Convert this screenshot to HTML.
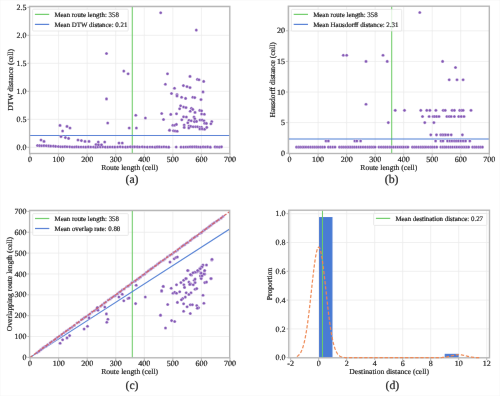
<!DOCTYPE html>
<html><head><meta charset="utf-8"><style>
html,body{margin:0;padding:0;background:#fff;width:500px;height:396px;overflow:hidden}
svg{display:block}
text{font-family:"Liberation Serif", serif;text-rendering:geometricPrecision}
</style></head><body>
<svg width="500" height="396" viewBox="0 0 500 396">
<defs><filter id="bl" x="-5%" y="-5%" width="110%" height="110%"><feConvolveMatrix order="3" kernelMatrix="0.00087 0.02776 0.00087 0.02776 0.88549 0.02776 0.00087 0.02776 0.00087" preserveAlpha="true" edgeMode="duplicate"/></filter></defs>
<g filter="url(#bl)">
<rect width="500" height="396" fill="#fff"/>
<rect x="29.6" y="6.4" width="200.20000000000002" height="147.1" fill="#fff"/>
<line x1="58.57" y1="6.40" x2="58.57" y2="153.50" stroke="#ebebeb" stroke-width="0.75"/>
<line x1="87.14" y1="6.40" x2="87.14" y2="153.50" stroke="#ebebeb" stroke-width="0.75"/>
<line x1="115.71" y1="6.40" x2="115.71" y2="153.50" stroke="#ebebeb" stroke-width="0.75"/>
<line x1="144.28" y1="6.40" x2="144.28" y2="153.50" stroke="#ebebeb" stroke-width="0.75"/>
<line x1="172.85" y1="6.40" x2="172.85" y2="153.50" stroke="#ebebeb" stroke-width="0.75"/>
<line x1="201.42" y1="6.40" x2="201.42" y2="153.50" stroke="#ebebeb" stroke-width="0.75"/>
<line x1="29.60" y1="147.30" x2="229.80" y2="147.30" stroke="#ebebeb" stroke-width="0.75"/>
<line x1="29.60" y1="119.30" x2="229.80" y2="119.30" stroke="#ebebeb" stroke-width="0.75"/>
<line x1="29.60" y1="91.30" x2="229.80" y2="91.30" stroke="#ebebeb" stroke-width="0.75"/>
<line x1="29.60" y1="63.30" x2="229.80" y2="63.30" stroke="#ebebeb" stroke-width="0.75"/>
<line x1="29.60" y1="35.30" x2="229.80" y2="35.30" stroke="#ebebeb" stroke-width="0.75"/>
<line x1="29.60" y1="7.30" x2="229.80" y2="7.30" stroke="#ebebeb" stroke-width="0.75"/>
<rect x="288.3" y="6.2" width="201.0" height="147.3" fill="#fff"/>
<line x1="289.60" y1="6.20" x2="289.60" y2="153.50" stroke="#ebebeb" stroke-width="0.75"/>
<line x1="318.12" y1="6.20" x2="318.12" y2="153.50" stroke="#ebebeb" stroke-width="0.75"/>
<line x1="346.64" y1="6.20" x2="346.64" y2="153.50" stroke="#ebebeb" stroke-width="0.75"/>
<line x1="375.16" y1="6.20" x2="375.16" y2="153.50" stroke="#ebebeb" stroke-width="0.75"/>
<line x1="403.68" y1="6.20" x2="403.68" y2="153.50" stroke="#ebebeb" stroke-width="0.75"/>
<line x1="432.20" y1="6.20" x2="432.20" y2="153.50" stroke="#ebebeb" stroke-width="0.75"/>
<line x1="460.72" y1="6.20" x2="460.72" y2="153.50" stroke="#ebebeb" stroke-width="0.75"/>
<line x1="288.30" y1="122.60" x2="489.30" y2="122.60" stroke="#ebebeb" stroke-width="0.75"/>
<line x1="288.30" y1="92.00" x2="489.30" y2="92.00" stroke="#ebebeb" stroke-width="0.75"/>
<line x1="288.30" y1="61.40" x2="489.30" y2="61.40" stroke="#ebebeb" stroke-width="0.75"/>
<line x1="288.30" y1="30.80" x2="489.30" y2="30.80" stroke="#ebebeb" stroke-width="0.75"/>
<rect x="29.6" y="210.4" width="200.1" height="147.4" fill="#fff"/>
<line x1="58.65" y1="210.40" x2="58.65" y2="357.80" stroke="#ebebeb" stroke-width="0.75"/>
<line x1="87.20" y1="210.40" x2="87.20" y2="357.80" stroke="#ebebeb" stroke-width="0.75"/>
<line x1="115.75" y1="210.40" x2="115.75" y2="357.80" stroke="#ebebeb" stroke-width="0.75"/>
<line x1="144.30" y1="210.40" x2="144.30" y2="357.80" stroke="#ebebeb" stroke-width="0.75"/>
<line x1="172.85" y1="210.40" x2="172.85" y2="357.80" stroke="#ebebeb" stroke-width="0.75"/>
<line x1="201.40" y1="210.40" x2="201.40" y2="357.80" stroke="#ebebeb" stroke-width="0.75"/>
<line x1="29.60" y1="336.54" x2="229.70" y2="336.54" stroke="#ebebeb" stroke-width="0.75"/>
<line x1="29.60" y1="315.68" x2="229.70" y2="315.68" stroke="#ebebeb" stroke-width="0.75"/>
<line x1="29.60" y1="294.82" x2="229.70" y2="294.82" stroke="#ebebeb" stroke-width="0.75"/>
<line x1="29.60" y1="273.96" x2="229.70" y2="273.96" stroke="#ebebeb" stroke-width="0.75"/>
<line x1="29.60" y1="253.10" x2="229.70" y2="253.10" stroke="#ebebeb" stroke-width="0.75"/>
<line x1="29.60" y1="232.24" x2="229.70" y2="232.24" stroke="#ebebeb" stroke-width="0.75"/>
<line x1="29.60" y1="211.38" x2="229.70" y2="211.38" stroke="#ebebeb" stroke-width="0.75"/>
<rect x="288.8" y="210.2" width="200.7" height="147.60000000000002" fill="#fff"/>
<line x1="290.70" y1="210.20" x2="290.70" y2="357.80" stroke="#ebebeb" stroke-width="0.75"/>
<line x1="318.70" y1="210.20" x2="318.70" y2="357.80" stroke="#ebebeb" stroke-width="0.75"/>
<line x1="346.70" y1="210.20" x2="346.70" y2="357.80" stroke="#ebebeb" stroke-width="0.75"/>
<line x1="374.70" y1="210.20" x2="374.70" y2="357.80" stroke="#ebebeb" stroke-width="0.75"/>
<line x1="402.70" y1="210.20" x2="402.70" y2="357.80" stroke="#ebebeb" stroke-width="0.75"/>
<line x1="430.70" y1="210.20" x2="430.70" y2="357.80" stroke="#ebebeb" stroke-width="0.75"/>
<line x1="458.70" y1="210.20" x2="458.70" y2="357.80" stroke="#ebebeb" stroke-width="0.75"/>
<line x1="486.70" y1="210.20" x2="486.70" y2="357.80" stroke="#ebebeb" stroke-width="0.75"/>
<line x1="288.80" y1="328.90" x2="489.50" y2="328.90" stroke="#ebebeb" stroke-width="0.75"/>
<line x1="288.80" y1="300.10" x2="489.50" y2="300.10" stroke="#ebebeb" stroke-width="0.75"/>
<line x1="288.80" y1="271.30" x2="489.50" y2="271.30" stroke="#ebebeb" stroke-width="0.75"/>
<line x1="288.80" y1="242.50" x2="489.50" y2="242.50" stroke="#ebebeb" stroke-width="0.75"/>
<line x1="288.80" y1="213.70" x2="489.50" y2="213.70" stroke="#ebebeb" stroke-width="0.75"/>
<line x1="132.28" y1="6.40" x2="132.28" y2="153.50" stroke="#6acc64" stroke-width="1.05"/>
<line x1="29.60" y1="135.54" x2="229.80" y2="135.54" stroke="#4a7cd4" stroke-width="1.1"/>
<circle cx="37.50" cy="145.45" r="1.55" fill="#8152b4" stroke="#fff" stroke-width="0.35"/>
<circle cx="39.62" cy="145.64" r="1.55" fill="#8152b4" stroke="#fff" stroke-width="0.35"/>
<circle cx="41.68" cy="145.70" r="1.55" fill="#8152b4" stroke="#fff" stroke-width="0.35"/>
<circle cx="43.97" cy="145.66" r="1.55" fill="#8152b4" stroke="#fff" stroke-width="0.35"/>
<circle cx="46.38" cy="145.76" r="1.55" fill="#8152b4" stroke="#fff" stroke-width="0.35"/>
<circle cx="48.72" cy="145.88" r="1.55" fill="#8152b4" stroke="#fff" stroke-width="0.35"/>
<circle cx="50.80" cy="146.08" r="1.55" fill="#8152b4" stroke="#fff" stroke-width="0.35"/>
<circle cx="53.46" cy="146.11" r="1.55" fill="#8152b4" stroke="#fff" stroke-width="0.35"/>
<circle cx="55.64" cy="146.35" r="1.55" fill="#8152b4" stroke="#fff" stroke-width="0.35"/>
<circle cx="58.39" cy="146.46" r="1.55" fill="#8152b4" stroke="#fff" stroke-width="0.35"/>
<circle cx="60.71" cy="146.69" r="1.55" fill="#8152b4" stroke="#fff" stroke-width="0.35"/>
<circle cx="62.75" cy="146.74" r="1.55" fill="#8152b4" stroke="#fff" stroke-width="0.35"/>
<circle cx="64.98" cy="146.63" r="1.55" fill="#8152b4" stroke="#fff" stroke-width="0.35"/>
<circle cx="67.08" cy="146.77" r="1.55" fill="#8152b4" stroke="#fff" stroke-width="0.35"/>
<circle cx="69.73" cy="146.85" r="1.55" fill="#8152b4" stroke="#fff" stroke-width="0.35"/>
<circle cx="72.19" cy="147.04" r="1.55" fill="#8152b4" stroke="#fff" stroke-width="0.35"/>
<circle cx="74.49" cy="147.01" r="1.55" fill="#8152b4" stroke="#fff" stroke-width="0.35"/>
<circle cx="76.54" cy="146.87" r="1.55" fill="#8152b4" stroke="#fff" stroke-width="0.35"/>
<circle cx="78.71" cy="147.05" r="1.55" fill="#8152b4" stroke="#fff" stroke-width="0.35"/>
<circle cx="81.05" cy="146.94" r="1.55" fill="#8152b4" stroke="#fff" stroke-width="0.35"/>
<circle cx="83.52" cy="146.99" r="1.55" fill="#8152b4" stroke="#fff" stroke-width="0.35"/>
<circle cx="85.76" cy="147.09" r="1.55" fill="#8152b4" stroke="#fff" stroke-width="0.35"/>
<circle cx="88.32" cy="146.92" r="1.55" fill="#8152b4" stroke="#fff" stroke-width="0.35"/>
<circle cx="90.78" cy="147.01" r="1.55" fill="#8152b4" stroke="#fff" stroke-width="0.35"/>
<circle cx="93.48" cy="147.07" r="1.55" fill="#8152b4" stroke="#fff" stroke-width="0.35"/>
<circle cx="95.71" cy="147.14" r="1.55" fill="#8152b4" stroke="#fff" stroke-width="0.35"/>
<circle cx="97.80" cy="146.98" r="1.55" fill="#8152b4" stroke="#fff" stroke-width="0.35"/>
<circle cx="100.41" cy="146.90" r="1.55" fill="#8152b4" stroke="#fff" stroke-width="0.35"/>
<circle cx="102.80" cy="146.86" r="1.55" fill="#8152b4" stroke="#fff" stroke-width="0.35"/>
<circle cx="105.33" cy="147.08" r="1.55" fill="#8152b4" stroke="#fff" stroke-width="0.35"/>
<circle cx="107.79" cy="147.11" r="1.55" fill="#8152b4" stroke="#fff" stroke-width="0.35"/>
<circle cx="110.04" cy="147.06" r="1.55" fill="#8152b4" stroke="#fff" stroke-width="0.35"/>
<circle cx="112.52" cy="147.02" r="1.55" fill="#8152b4" stroke="#fff" stroke-width="0.35"/>
<circle cx="114.88" cy="147.10" r="1.55" fill="#8152b4" stroke="#fff" stroke-width="0.35"/>
<circle cx="117.64" cy="146.99" r="1.55" fill="#8152b4" stroke="#fff" stroke-width="0.35"/>
<circle cx="120.17" cy="146.87" r="1.55" fill="#8152b4" stroke="#fff" stroke-width="0.35"/>
<circle cx="122.73" cy="147.04" r="1.55" fill="#8152b4" stroke="#fff" stroke-width="0.35"/>
<circle cx="125.52" cy="147.10" r="1.55" fill="#8152b4" stroke="#fff" stroke-width="0.35"/>
<circle cx="127.75" cy="146.97" r="1.55" fill="#8152b4" stroke="#fff" stroke-width="0.35"/>
<circle cx="130.29" cy="146.86" r="1.55" fill="#8152b4" stroke="#fff" stroke-width="0.35"/>
<circle cx="132.66" cy="146.90" r="1.55" fill="#8152b4" stroke="#fff" stroke-width="0.35"/>
<circle cx="134.75" cy="146.87" r="1.55" fill="#8152b4" stroke="#fff" stroke-width="0.35"/>
<circle cx="137.36" cy="146.89" r="1.55" fill="#8152b4" stroke="#fff" stroke-width="0.35"/>
<circle cx="139.56" cy="146.97" r="1.55" fill="#8152b4" stroke="#fff" stroke-width="0.35"/>
<circle cx="142.26" cy="146.87" r="1.55" fill="#8152b4" stroke="#fff" stroke-width="0.35"/>
<circle cx="144.62" cy="147.01" r="1.55" fill="#8152b4" stroke="#fff" stroke-width="0.35"/>
<circle cx="147.33" cy="147.10" r="1.55" fill="#8152b4" stroke="#fff" stroke-width="0.35"/>
<circle cx="150.02" cy="146.93" r="1.55" fill="#8152b4" stroke="#fff" stroke-width="0.35"/>
<circle cx="152.35" cy="146.96" r="1.55" fill="#8152b4" stroke="#fff" stroke-width="0.35"/>
<circle cx="155.06" cy="147.14" r="1.55" fill="#8152b4" stroke="#fff" stroke-width="0.35"/>
<circle cx="157.18" cy="146.90" r="1.55" fill="#8152b4" stroke="#fff" stroke-width="0.35"/>
<circle cx="159.36" cy="146.92" r="1.55" fill="#8152b4" stroke="#fff" stroke-width="0.35"/>
<circle cx="161.75" cy="147.03" r="1.55" fill="#8152b4" stroke="#fff" stroke-width="0.35"/>
<circle cx="163.96" cy="146.85" r="1.55" fill="#8152b4" stroke="#fff" stroke-width="0.35"/>
<circle cx="166.30" cy="146.96" r="1.55" fill="#8152b4" stroke="#fff" stroke-width="0.35"/>
<circle cx="168.75" cy="147.14" r="1.55" fill="#8152b4" stroke="#fff" stroke-width="0.35"/>
<circle cx="176.21" cy="147.05" r="1.55" fill="#8152b4" stroke="#fff" stroke-width="0.35"/>
<circle cx="180.97" cy="147.08" r="1.55" fill="#8152b4" stroke="#fff" stroke-width="0.35"/>
<circle cx="183.67" cy="147.09" r="1.55" fill="#8152b4" stroke="#fff" stroke-width="0.35"/>
<circle cx="185.98" cy="146.97" r="1.55" fill="#8152b4" stroke="#fff" stroke-width="0.35"/>
<circle cx="188.07" cy="147.04" r="1.55" fill="#8152b4" stroke="#fff" stroke-width="0.35"/>
<circle cx="190.12" cy="146.87" r="1.55" fill="#8152b4" stroke="#fff" stroke-width="0.35"/>
<circle cx="192.28" cy="146.90" r="1.55" fill="#8152b4" stroke="#fff" stroke-width="0.35"/>
<circle cx="194.56" cy="146.87" r="1.55" fill="#8152b4" stroke="#fff" stroke-width="0.35"/>
<circle cx="196.56" cy="146.90" r="1.55" fill="#8152b4" stroke="#fff" stroke-width="0.35"/>
<circle cx="198.64" cy="146.96" r="1.55" fill="#8152b4" stroke="#fff" stroke-width="0.35"/>
<circle cx="200.66" cy="147.11" r="1.55" fill="#8152b4" stroke="#fff" stroke-width="0.35"/>
<circle cx="203.15" cy="146.89" r="1.55" fill="#8152b4" stroke="#fff" stroke-width="0.35"/>
<circle cx="205.35" cy="146.95" r="1.55" fill="#8152b4" stroke="#fff" stroke-width="0.35"/>
<circle cx="207.64" cy="146.89" r="1.55" fill="#8152b4" stroke="#fff" stroke-width="0.35"/>
<circle cx="210.32" cy="147.15" r="1.55" fill="#8152b4" stroke="#fff" stroke-width="0.35"/>
<circle cx="215.08" cy="146.88" r="1.55" fill="#8152b4" stroke="#fff" stroke-width="0.35"/>
<circle cx="217.16" cy="146.95" r="1.55" fill="#8152b4" stroke="#fff" stroke-width="0.35"/>
<circle cx="219.38" cy="147.10" r="1.55" fill="#8152b4" stroke="#fff" stroke-width="0.35"/>
<circle cx="221.50" cy="146.86" r="1.55" fill="#8152b4" stroke="#fff" stroke-width="0.35"/>
<circle cx="160.70" cy="12.70" r="1.55" fill="#8152b4" stroke="#fff" stroke-width="0.35"/>
<circle cx="196.30" cy="30.10" r="1.55" fill="#8152b4" stroke="#fff" stroke-width="0.35"/>
<circle cx="106.50" cy="53.50" r="1.55" fill="#8152b4" stroke="#fff" stroke-width="0.35"/>
<circle cx="123.80" cy="71.10" r="1.55" fill="#8152b4" stroke="#fff" stroke-width="0.35"/>
<circle cx="128.10" cy="73.80" r="1.55" fill="#8152b4" stroke="#fff" stroke-width="0.35"/>
<circle cx="167.50" cy="73.80" r="1.55" fill="#8152b4" stroke="#fff" stroke-width="0.35"/>
<circle cx="165.40" cy="84.20" r="1.55" fill="#8152b4" stroke="#fff" stroke-width="0.35"/>
<circle cx="174.50" cy="88.20" r="1.55" fill="#8152b4" stroke="#fff" stroke-width="0.35"/>
<circle cx="171.50" cy="93.50" r="1.55" fill="#8152b4" stroke="#fff" stroke-width="0.35"/>
<circle cx="106.50" cy="98.90" r="1.55" fill="#8152b4" stroke="#fff" stroke-width="0.35"/>
<circle cx="203.00" cy="91.90" r="1.55" fill="#8152b4" stroke="#fff" stroke-width="0.35"/>
<circle cx="183.40" cy="85.60" r="1.55" fill="#8152b4" stroke="#fff" stroke-width="0.35"/>
<circle cx="187.00" cy="86.60" r="1.55" fill="#8152b4" stroke="#fff" stroke-width="0.35"/>
<circle cx="190.00" cy="87.60" r="1.55" fill="#8152b4" stroke="#fff" stroke-width="0.35"/>
<circle cx="190.00" cy="76.40" r="1.55" fill="#8152b4" stroke="#fff" stroke-width="0.35"/>
<circle cx="197.40" cy="79.40" r="1.55" fill="#8152b4" stroke="#fff" stroke-width="0.35"/>
<circle cx="199.00" cy="79.80" r="1.55" fill="#8152b4" stroke="#fff" stroke-width="0.35"/>
<circle cx="203.70" cy="81.40" r="1.55" fill="#8152b4" stroke="#fff" stroke-width="0.35"/>
<circle cx="177.00" cy="94.60" r="1.55" fill="#8152b4" stroke="#fff" stroke-width="0.35"/>
<circle cx="177.00" cy="96.00" r="1.55" fill="#8152b4" stroke="#fff" stroke-width="0.35"/>
<circle cx="181.60" cy="97.20" r="1.55" fill="#8152b4" stroke="#fff" stroke-width="0.35"/>
<circle cx="185.60" cy="98.40" r="1.55" fill="#8152b4" stroke="#fff" stroke-width="0.35"/>
<circle cx="192.80" cy="97.20" r="1.55" fill="#8152b4" stroke="#fff" stroke-width="0.35"/>
<circle cx="194.80" cy="97.60" r="1.55" fill="#8152b4" stroke="#fff" stroke-width="0.35"/>
<circle cx="201.00" cy="99.60" r="1.55" fill="#8152b4" stroke="#fff" stroke-width="0.35"/>
<circle cx="180.60" cy="105.80" r="1.55" fill="#8152b4" stroke="#fff" stroke-width="0.35"/>
<circle cx="183.60" cy="107.00" r="1.55" fill="#8152b4" stroke="#fff" stroke-width="0.35"/>
<circle cx="186.00" cy="107.60" r="1.55" fill="#8152b4" stroke="#fff" stroke-width="0.35"/>
<circle cx="179.60" cy="108.80" r="1.55" fill="#8152b4" stroke="#fff" stroke-width="0.35"/>
<circle cx="191.40" cy="108.40" r="1.55" fill="#8152b4" stroke="#fff" stroke-width="0.35"/>
<circle cx="192.80" cy="109.40" r="1.55" fill="#8152b4" stroke="#fff" stroke-width="0.35"/>
<circle cx="190.20" cy="111.20" r="1.55" fill="#8152b4" stroke="#fff" stroke-width="0.35"/>
<circle cx="195.00" cy="112.40" r="1.55" fill="#8152b4" stroke="#fff" stroke-width="0.35"/>
<circle cx="199.80" cy="110.40" r="1.55" fill="#8152b4" stroke="#fff" stroke-width="0.35"/>
<circle cx="201.60" cy="110.80" r="1.55" fill="#8152b4" stroke="#fff" stroke-width="0.35"/>
<circle cx="201.60" cy="114.00" r="1.55" fill="#8152b4" stroke="#fff" stroke-width="0.35"/>
<circle cx="204.40" cy="114.20" r="1.55" fill="#8152b4" stroke="#fff" stroke-width="0.35"/>
<circle cx="170.80" cy="114.40" r="1.55" fill="#8152b4" stroke="#fff" stroke-width="0.35"/>
<circle cx="176.50" cy="113.80" r="1.55" fill="#8152b4" stroke="#fff" stroke-width="0.35"/>
<circle cx="183.60" cy="116.80" r="1.55" fill="#8152b4" stroke="#fff" stroke-width="0.35"/>
<circle cx="186.40" cy="117.00" r="1.55" fill="#8152b4" stroke="#fff" stroke-width="0.35"/>
<circle cx="194.00" cy="117.00" r="1.55" fill="#8152b4" stroke="#fff" stroke-width="0.35"/>
<circle cx="194.80" cy="118.80" r="1.55" fill="#8152b4" stroke="#fff" stroke-width="0.35"/>
<circle cx="181.80" cy="119.80" r="1.55" fill="#8152b4" stroke="#fff" stroke-width="0.35"/>
<circle cx="189.00" cy="120.20" r="1.55" fill="#8152b4" stroke="#fff" stroke-width="0.35"/>
<circle cx="191.20" cy="120.80" r="1.55" fill="#8152b4" stroke="#fff" stroke-width="0.35"/>
<circle cx="194.40" cy="121.60" r="1.55" fill="#8152b4" stroke="#fff" stroke-width="0.35"/>
<circle cx="196.50" cy="121.40" r="1.55" fill="#8152b4" stroke="#fff" stroke-width="0.35"/>
<circle cx="200.00" cy="120.00" r="1.55" fill="#8152b4" stroke="#fff" stroke-width="0.35"/>
<circle cx="202.20" cy="120.00" r="1.55" fill="#8152b4" stroke="#fff" stroke-width="0.35"/>
<circle cx="204.00" cy="120.80" r="1.55" fill="#8152b4" stroke="#fff" stroke-width="0.35"/>
<circle cx="187.80" cy="122.80" r="1.55" fill="#8152b4" stroke="#fff" stroke-width="0.35"/>
<circle cx="204.60" cy="123.20" r="1.55" fill="#8152b4" stroke="#fff" stroke-width="0.35"/>
<circle cx="206.40" cy="123.40" r="1.55" fill="#8152b4" stroke="#fff" stroke-width="0.35"/>
<circle cx="211.80" cy="121.60" r="1.55" fill="#8152b4" stroke="#fff" stroke-width="0.35"/>
<circle cx="210.90" cy="123.80" r="1.55" fill="#8152b4" stroke="#fff" stroke-width="0.35"/>
<circle cx="172.80" cy="125.20" r="1.55" fill="#8152b4" stroke="#fff" stroke-width="0.35"/>
<circle cx="174.60" cy="125.20" r="1.55" fill="#8152b4" stroke="#fff" stroke-width="0.35"/>
<circle cx="176.40" cy="124.40" r="1.55" fill="#8152b4" stroke="#fff" stroke-width="0.35"/>
<circle cx="184.20" cy="125.00" r="1.55" fill="#8152b4" stroke="#fff" stroke-width="0.35"/>
<circle cx="184.20" cy="127.40" r="1.55" fill="#8152b4" stroke="#fff" stroke-width="0.35"/>
<circle cx="189.00" cy="126.00" r="1.55" fill="#8152b4" stroke="#fff" stroke-width="0.35"/>
<circle cx="190.80" cy="126.40" r="1.55" fill="#8152b4" stroke="#fff" stroke-width="0.35"/>
<circle cx="193.20" cy="126.80" r="1.55" fill="#8152b4" stroke="#fff" stroke-width="0.35"/>
<circle cx="195.60" cy="126.80" r="1.55" fill="#8152b4" stroke="#fff" stroke-width="0.35"/>
<circle cx="197.60" cy="126.80" r="1.55" fill="#8152b4" stroke="#fff" stroke-width="0.35"/>
<circle cx="199.80" cy="127.20" r="1.55" fill="#8152b4" stroke="#fff" stroke-width="0.35"/>
<circle cx="201.60" cy="127.20" r="1.55" fill="#8152b4" stroke="#fff" stroke-width="0.35"/>
<circle cx="188.80" cy="128.00" r="1.55" fill="#8152b4" stroke="#fff" stroke-width="0.35"/>
<circle cx="199.80" cy="129.00" r="1.55" fill="#8152b4" stroke="#fff" stroke-width="0.35"/>
<circle cx="202.20" cy="129.00" r="1.55" fill="#8152b4" stroke="#fff" stroke-width="0.35"/>
<circle cx="204.60" cy="129.20" r="1.55" fill="#8152b4" stroke="#fff" stroke-width="0.35"/>
<circle cx="206.80" cy="127.40" r="1.55" fill="#8152b4" stroke="#fff" stroke-width="0.35"/>
<circle cx="169.60" cy="130.00" r="1.55" fill="#8152b4" stroke="#fff" stroke-width="0.35"/>
<circle cx="173.40" cy="130.80" r="1.55" fill="#8152b4" stroke="#fff" stroke-width="0.35"/>
<circle cx="175.20" cy="131.00" r="1.55" fill="#8152b4" stroke="#fff" stroke-width="0.35"/>
<circle cx="177.20" cy="131.20" r="1.55" fill="#8152b4" stroke="#fff" stroke-width="0.35"/>
<circle cx="107.70" cy="123.00" r="1.55" fill="#8152b4" stroke="#fff" stroke-width="0.35"/>
<circle cx="135.80" cy="115.30" r="1.55" fill="#8152b4" stroke="#fff" stroke-width="0.35"/>
<circle cx="145.40" cy="118.00" r="1.55" fill="#8152b4" stroke="#fff" stroke-width="0.35"/>
<circle cx="161.70" cy="113.50" r="1.55" fill="#8152b4" stroke="#fff" stroke-width="0.35"/>
<circle cx="163.50" cy="119.50" r="1.55" fill="#8152b4" stroke="#fff" stroke-width="0.35"/>
<circle cx="129.20" cy="128.00" r="1.55" fill="#8152b4" stroke="#fff" stroke-width="0.35"/>
<circle cx="136.40" cy="128.00" r="1.55" fill="#8152b4" stroke="#fff" stroke-width="0.35"/>
<circle cx="169.50" cy="130.30" r="1.55" fill="#8152b4" stroke="#fff" stroke-width="0.35"/>
<circle cx="60.00" cy="125.40" r="1.55" fill="#8152b4" stroke="#fff" stroke-width="0.35"/>
<circle cx="62.60" cy="131.00" r="1.55" fill="#8152b4" stroke="#fff" stroke-width="0.35"/>
<circle cx="67.00" cy="126.40" r="1.55" fill="#8152b4" stroke="#fff" stroke-width="0.35"/>
<circle cx="70.00" cy="128.00" r="1.55" fill="#8152b4" stroke="#fff" stroke-width="0.35"/>
<circle cx="61.00" cy="136.60" r="1.55" fill="#8152b4" stroke="#fff" stroke-width="0.35"/>
<circle cx="65.40" cy="137.60" r="1.55" fill="#8152b4" stroke="#fff" stroke-width="0.35"/>
<circle cx="68.60" cy="138.40" r="1.55" fill="#8152b4" stroke="#fff" stroke-width="0.35"/>
<circle cx="41.00" cy="140.00" r="1.55" fill="#8152b4" stroke="#fff" stroke-width="0.35"/>
<circle cx="44.00" cy="141.40" r="1.55" fill="#8152b4" stroke="#fff" stroke-width="0.35"/>
<circle cx="78.00" cy="140.00" r="1.55" fill="#8152b4" stroke="#fff" stroke-width="0.35"/>
<circle cx="81.40" cy="140.60" r="1.55" fill="#8152b4" stroke="#fff" stroke-width="0.35"/>
<circle cx="85.00" cy="141.40" r="1.55" fill="#8152b4" stroke="#fff" stroke-width="0.35"/>
<circle cx="89.00" cy="141.40" r="1.55" fill="#8152b4" stroke="#fff" stroke-width="0.35"/>
<circle cx="98.30" cy="142.00" r="1.55" fill="#8152b4" stroke="#fff" stroke-width="0.35"/>
<circle cx="104.70" cy="142.00" r="1.55" fill="#8152b4" stroke="#fff" stroke-width="0.35"/>
<circle cx="119.00" cy="143.00" r="1.55" fill="#8152b4" stroke="#fff" stroke-width="0.35"/>
<circle cx="122.30" cy="143.00" r="1.55" fill="#8152b4" stroke="#fff" stroke-width="0.35"/>
<circle cx="96.00" cy="144.50" r="1.55" fill="#8152b4" stroke="#fff" stroke-width="0.35"/>
<circle cx="98.50" cy="144.80" r="1.55" fill="#8152b4" stroke="#fff" stroke-width="0.35"/>
<circle cx="101.50" cy="144.80" r="1.55" fill="#8152b4" stroke="#fff" stroke-width="0.35"/>
<line x1="391.70" y1="6.20" x2="391.70" y2="153.50" stroke="#6acc64" stroke-width="1.05"/>
<line x1="288.30" y1="139.06" x2="489.30" y2="139.06" stroke="#4a7cd4" stroke-width="1.1"/>
<circle cx="296.50" cy="147.10" r="1.55" fill="#8152b4" stroke="#fff" stroke-width="0.35"/>
<circle cx="298.52" cy="147.10" r="1.55" fill="#8152b4" stroke="#fff" stroke-width="0.35"/>
<circle cx="300.30" cy="147.10" r="1.55" fill="#8152b4" stroke="#fff" stroke-width="0.35"/>
<circle cx="302.33" cy="147.10" r="1.55" fill="#8152b4" stroke="#fff" stroke-width="0.35"/>
<circle cx="304.05" cy="147.10" r="1.55" fill="#8152b4" stroke="#fff" stroke-width="0.35"/>
<circle cx="306.06" cy="147.10" r="1.55" fill="#8152b4" stroke="#fff" stroke-width="0.35"/>
<circle cx="308.35" cy="147.10" r="1.55" fill="#8152b4" stroke="#fff" stroke-width="0.35"/>
<circle cx="310.57" cy="147.10" r="1.55" fill="#8152b4" stroke="#fff" stroke-width="0.35"/>
<circle cx="312.69" cy="147.10" r="1.55" fill="#8152b4" stroke="#fff" stroke-width="0.35"/>
<circle cx="314.54" cy="147.10" r="1.55" fill="#8152b4" stroke="#fff" stroke-width="0.35"/>
<circle cx="316.46" cy="147.10" r="1.55" fill="#8152b4" stroke="#fff" stroke-width="0.35"/>
<circle cx="318.26" cy="147.10" r="1.55" fill="#8152b4" stroke="#fff" stroke-width="0.35"/>
<circle cx="320.43" cy="147.10" r="1.55" fill="#8152b4" stroke="#fff" stroke-width="0.35"/>
<circle cx="322.45" cy="147.10" r="1.55" fill="#8152b4" stroke="#fff" stroke-width="0.35"/>
<circle cx="324.61" cy="147.10" r="1.55" fill="#8152b4" stroke="#fff" stroke-width="0.35"/>
<circle cx="328.35" cy="147.10" r="1.55" fill="#8152b4" stroke="#fff" stroke-width="0.35"/>
<circle cx="330.53" cy="147.10" r="1.55" fill="#8152b4" stroke="#fff" stroke-width="0.35"/>
<circle cx="332.82" cy="147.10" r="1.55" fill="#8152b4" stroke="#fff" stroke-width="0.35"/>
<circle cx="335.03" cy="147.10" r="1.55" fill="#8152b4" stroke="#fff" stroke-width="0.35"/>
<circle cx="339.41" cy="147.10" r="1.55" fill="#8152b4" stroke="#fff" stroke-width="0.35"/>
<circle cx="341.55" cy="147.10" r="1.55" fill="#8152b4" stroke="#fff" stroke-width="0.35"/>
<circle cx="343.39" cy="147.10" r="1.55" fill="#8152b4" stroke="#fff" stroke-width="0.35"/>
<circle cx="345.40" cy="147.10" r="1.55" fill="#8152b4" stroke="#fff" stroke-width="0.35"/>
<circle cx="347.31" cy="147.10" r="1.55" fill="#8152b4" stroke="#fff" stroke-width="0.35"/>
<circle cx="349.03" cy="147.10" r="1.55" fill="#8152b4" stroke="#fff" stroke-width="0.35"/>
<circle cx="350.75" cy="147.10" r="1.55" fill="#8152b4" stroke="#fff" stroke-width="0.35"/>
<circle cx="352.62" cy="147.10" r="1.55" fill="#8152b4" stroke="#fff" stroke-width="0.35"/>
<circle cx="354.47" cy="147.10" r="1.55" fill="#8152b4" stroke="#fff" stroke-width="0.35"/>
<circle cx="356.59" cy="147.10" r="1.55" fill="#8152b4" stroke="#fff" stroke-width="0.35"/>
<circle cx="358.86" cy="147.10" r="1.55" fill="#8152b4" stroke="#fff" stroke-width="0.35"/>
<circle cx="360.83" cy="147.10" r="1.55" fill="#8152b4" stroke="#fff" stroke-width="0.35"/>
<circle cx="363.09" cy="147.10" r="1.55" fill="#8152b4" stroke="#fff" stroke-width="0.35"/>
<circle cx="365.38" cy="147.10" r="1.55" fill="#8152b4" stroke="#fff" stroke-width="0.35"/>
<circle cx="367.66" cy="147.10" r="1.55" fill="#8152b4" stroke="#fff" stroke-width="0.35"/>
<circle cx="369.58" cy="147.10" r="1.55" fill="#8152b4" stroke="#fff" stroke-width="0.35"/>
<circle cx="371.41" cy="147.10" r="1.55" fill="#8152b4" stroke="#fff" stroke-width="0.35"/>
<circle cx="373.24" cy="147.10" r="1.55" fill="#8152b4" stroke="#fff" stroke-width="0.35"/>
<circle cx="375.06" cy="147.10" r="1.55" fill="#8152b4" stroke="#fff" stroke-width="0.35"/>
<circle cx="378.96" cy="147.10" r="1.55" fill="#8152b4" stroke="#fff" stroke-width="0.35"/>
<circle cx="381.20" cy="147.10" r="1.55" fill="#8152b4" stroke="#fff" stroke-width="0.35"/>
<circle cx="383.40" cy="147.10" r="1.55" fill="#8152b4" stroke="#fff" stroke-width="0.35"/>
<circle cx="385.39" cy="147.10" r="1.55" fill="#8152b4" stroke="#fff" stroke-width="0.35"/>
<circle cx="387.48" cy="147.10" r="1.55" fill="#8152b4" stroke="#fff" stroke-width="0.35"/>
<circle cx="389.66" cy="147.10" r="1.55" fill="#8152b4" stroke="#fff" stroke-width="0.35"/>
<circle cx="391.41" cy="147.10" r="1.55" fill="#8152b4" stroke="#fff" stroke-width="0.35"/>
<circle cx="393.51" cy="147.10" r="1.55" fill="#8152b4" stroke="#fff" stroke-width="0.35"/>
<circle cx="395.76" cy="147.10" r="1.55" fill="#8152b4" stroke="#fff" stroke-width="0.35"/>
<circle cx="397.92" cy="147.10" r="1.55" fill="#8152b4" stroke="#fff" stroke-width="0.35"/>
<circle cx="400.07" cy="147.10" r="1.55" fill="#8152b4" stroke="#fff" stroke-width="0.35"/>
<circle cx="402.06" cy="147.10" r="1.55" fill="#8152b4" stroke="#fff" stroke-width="0.35"/>
<circle cx="403.87" cy="147.10" r="1.55" fill="#8152b4" stroke="#fff" stroke-width="0.35"/>
<circle cx="406.04" cy="147.10" r="1.55" fill="#8152b4" stroke="#fff" stroke-width="0.35"/>
<circle cx="407.94" cy="147.10" r="1.55" fill="#8152b4" stroke="#fff" stroke-width="0.35"/>
<circle cx="412.41" cy="147.10" r="1.55" fill="#8152b4" stroke="#fff" stroke-width="0.35"/>
<circle cx="414.34" cy="147.10" r="1.55" fill="#8152b4" stroke="#fff" stroke-width="0.35"/>
<circle cx="416.28" cy="147.10" r="1.55" fill="#8152b4" stroke="#fff" stroke-width="0.35"/>
<circle cx="418.55" cy="147.10" r="1.55" fill="#8152b4" stroke="#fff" stroke-width="0.35"/>
<circle cx="420.69" cy="147.10" r="1.55" fill="#8152b4" stroke="#fff" stroke-width="0.35"/>
<circle cx="422.49" cy="147.10" r="1.55" fill="#8152b4" stroke="#fff" stroke-width="0.35"/>
<circle cx="424.26" cy="147.10" r="1.55" fill="#8152b4" stroke="#fff" stroke-width="0.35"/>
<circle cx="426.06" cy="147.10" r="1.55" fill="#8152b4" stroke="#fff" stroke-width="0.35"/>
<circle cx="428.30" cy="147.10" r="1.55" fill="#8152b4" stroke="#fff" stroke-width="0.35"/>
<circle cx="430.48" cy="147.10" r="1.55" fill="#8152b4" stroke="#fff" stroke-width="0.35"/>
<circle cx="432.27" cy="147.10" r="1.55" fill="#8152b4" stroke="#fff" stroke-width="0.35"/>
<circle cx="434.47" cy="147.10" r="1.55" fill="#8152b4" stroke="#fff" stroke-width="0.35"/>
<circle cx="436.75" cy="147.10" r="1.55" fill="#8152b4" stroke="#fff" stroke-width="0.35"/>
<circle cx="440.76" cy="147.10" r="1.55" fill="#8152b4" stroke="#fff" stroke-width="0.35"/>
<circle cx="442.79" cy="147.10" r="1.55" fill="#8152b4" stroke="#fff" stroke-width="0.35"/>
<circle cx="444.57" cy="147.10" r="1.55" fill="#8152b4" stroke="#fff" stroke-width="0.35"/>
<circle cx="446.28" cy="147.10" r="1.55" fill="#8152b4" stroke="#fff" stroke-width="0.35"/>
<circle cx="448.56" cy="147.10" r="1.55" fill="#8152b4" stroke="#fff" stroke-width="0.35"/>
<circle cx="450.65" cy="147.10" r="1.55" fill="#8152b4" stroke="#fff" stroke-width="0.35"/>
<circle cx="452.66" cy="147.10" r="1.55" fill="#8152b4" stroke="#fff" stroke-width="0.35"/>
<circle cx="454.92" cy="147.10" r="1.55" fill="#8152b4" stroke="#fff" stroke-width="0.35"/>
<circle cx="456.88" cy="147.10" r="1.55" fill="#8152b4" stroke="#fff" stroke-width="0.35"/>
<circle cx="459.11" cy="147.10" r="1.55" fill="#8152b4" stroke="#fff" stroke-width="0.35"/>
<circle cx="461.30" cy="147.10" r="1.55" fill="#8152b4" stroke="#fff" stroke-width="0.35"/>
<circle cx="463.13" cy="147.10" r="1.55" fill="#8152b4" stroke="#fff" stroke-width="0.35"/>
<circle cx="464.98" cy="147.10" r="1.55" fill="#8152b4" stroke="#fff" stroke-width="0.35"/>
<circle cx="466.86" cy="147.10" r="1.55" fill="#8152b4" stroke="#fff" stroke-width="0.35"/>
<circle cx="468.70" cy="147.10" r="1.55" fill="#8152b4" stroke="#fff" stroke-width="0.35"/>
<circle cx="472.61" cy="147.10" r="1.55" fill="#8152b4" stroke="#fff" stroke-width="0.35"/>
<circle cx="474.56" cy="147.10" r="1.55" fill="#8152b4" stroke="#fff" stroke-width="0.35"/>
<circle cx="476.34" cy="147.10" r="1.55" fill="#8152b4" stroke="#fff" stroke-width="0.35"/>
<circle cx="478.58" cy="147.10" r="1.55" fill="#8152b4" stroke="#fff" stroke-width="0.35"/>
<circle cx="480.50" cy="147.10" r="1.55" fill="#8152b4" stroke="#fff" stroke-width="0.35"/>
<circle cx="482.47" cy="147.10" r="1.55" fill="#8152b4" stroke="#fff" stroke-width="0.35"/>
<circle cx="419.80" cy="12.44" r="1.55" fill="#8152b4" stroke="#fff" stroke-width="0.35"/>
<circle cx="343.30" cy="55.28" r="1.55" fill="#8152b4" stroke="#fff" stroke-width="0.35"/>
<circle cx="346.70" cy="55.28" r="1.55" fill="#8152b4" stroke="#fff" stroke-width="0.35"/>
<circle cx="383.00" cy="55.28" r="1.55" fill="#8152b4" stroke="#fff" stroke-width="0.35"/>
<circle cx="366.00" cy="61.40" r="1.55" fill="#8152b4" stroke="#fff" stroke-width="0.35"/>
<circle cx="387.20" cy="61.40" r="1.55" fill="#8152b4" stroke="#fff" stroke-width="0.35"/>
<circle cx="442.60" cy="61.40" r="1.55" fill="#8152b4" stroke="#fff" stroke-width="0.35"/>
<circle cx="455.50" cy="67.52" r="1.55" fill="#8152b4" stroke="#fff" stroke-width="0.35"/>
<circle cx="449.20" cy="79.76" r="1.55" fill="#8152b4" stroke="#fff" stroke-width="0.35"/>
<circle cx="457.00" cy="79.76" r="1.55" fill="#8152b4" stroke="#fff" stroke-width="0.35"/>
<circle cx="463.10" cy="79.76" r="1.55" fill="#8152b4" stroke="#fff" stroke-width="0.35"/>
<circle cx="366.00" cy="104.24" r="1.55" fill="#8152b4" stroke="#fff" stroke-width="0.35"/>
<circle cx="395.20" cy="110.36" r="1.55" fill="#8152b4" stroke="#fff" stroke-width="0.35"/>
<circle cx="404.50" cy="110.36" r="1.55" fill="#8152b4" stroke="#fff" stroke-width="0.35"/>
<circle cx="420.80" cy="110.36" r="1.55" fill="#8152b4" stroke="#fff" stroke-width="0.35"/>
<circle cx="426.80" cy="110.36" r="1.55" fill="#8152b4" stroke="#fff" stroke-width="0.35"/>
<circle cx="429.90" cy="110.36" r="1.55" fill="#8152b4" stroke="#fff" stroke-width="0.35"/>
<circle cx="435.90" cy="110.36" r="1.55" fill="#8152b4" stroke="#fff" stroke-width="0.35"/>
<circle cx="443.20" cy="110.36" r="1.55" fill="#8152b4" stroke="#fff" stroke-width="0.35"/>
<circle cx="445.20" cy="110.36" r="1.55" fill="#8152b4" stroke="#fff" stroke-width="0.35"/>
<circle cx="452.10" cy="110.36" r="1.55" fill="#8152b4" stroke="#fff" stroke-width="0.35"/>
<circle cx="454.40" cy="110.36" r="1.55" fill="#8152b4" stroke="#fff" stroke-width="0.35"/>
<circle cx="459.70" cy="110.36" r="1.55" fill="#8152b4" stroke="#fff" stroke-width="0.35"/>
<circle cx="461.60" cy="110.36" r="1.55" fill="#8152b4" stroke="#fff" stroke-width="0.35"/>
<circle cx="463.10" cy="110.36" r="1.55" fill="#8152b4" stroke="#fff" stroke-width="0.35"/>
<circle cx="471.00" cy="110.36" r="1.55" fill="#8152b4" stroke="#fff" stroke-width="0.35"/>
<circle cx="422.50" cy="116.48" r="1.55" fill="#8152b4" stroke="#fff" stroke-width="0.35"/>
<circle cx="429.10" cy="116.48" r="1.55" fill="#8152b4" stroke="#fff" stroke-width="0.35"/>
<circle cx="433.10" cy="116.48" r="1.55" fill="#8152b4" stroke="#fff" stroke-width="0.35"/>
<circle cx="434.80" cy="116.48" r="1.55" fill="#8152b4" stroke="#fff" stroke-width="0.35"/>
<circle cx="436.70" cy="116.48" r="1.55" fill="#8152b4" stroke="#fff" stroke-width="0.35"/>
<circle cx="439.00" cy="116.48" r="1.55" fill="#8152b4" stroke="#fff" stroke-width="0.35"/>
<circle cx="446.90" cy="116.48" r="1.55" fill="#8152b4" stroke="#fff" stroke-width="0.35"/>
<circle cx="449.20" cy="116.48" r="1.55" fill="#8152b4" stroke="#fff" stroke-width="0.35"/>
<circle cx="451.10" cy="116.48" r="1.55" fill="#8152b4" stroke="#fff" stroke-width="0.35"/>
<circle cx="454.40" cy="116.48" r="1.55" fill="#8152b4" stroke="#fff" stroke-width="0.35"/>
<circle cx="458.70" cy="116.48" r="1.55" fill="#8152b4" stroke="#fff" stroke-width="0.35"/>
<circle cx="461.20" cy="116.48" r="1.55" fill="#8152b4" stroke="#fff" stroke-width="0.35"/>
<circle cx="464.00" cy="116.48" r="1.55" fill="#8152b4" stroke="#fff" stroke-width="0.35"/>
<circle cx="388.30" cy="122.60" r="1.55" fill="#8152b4" stroke="#fff" stroke-width="0.35"/>
<circle cx="424.80" cy="122.60" r="1.55" fill="#8152b4" stroke="#fff" stroke-width="0.35"/>
<circle cx="433.90" cy="122.60" r="1.55" fill="#8152b4" stroke="#fff" stroke-width="0.35"/>
<circle cx="430.80" cy="134.84" r="1.55" fill="#8152b4" stroke="#fff" stroke-width="0.35"/>
<circle cx="436.50" cy="134.84" r="1.55" fill="#8152b4" stroke="#fff" stroke-width="0.35"/>
<circle cx="440.70" cy="134.84" r="1.55" fill="#8152b4" stroke="#fff" stroke-width="0.35"/>
<circle cx="442.40" cy="134.84" r="1.55" fill="#8152b4" stroke="#fff" stroke-width="0.35"/>
<circle cx="444.10" cy="134.84" r="1.55" fill="#8152b4" stroke="#fff" stroke-width="0.35"/>
<circle cx="445.80" cy="134.84" r="1.55" fill="#8152b4" stroke="#fff" stroke-width="0.35"/>
<circle cx="448.10" cy="134.84" r="1.55" fill="#8152b4" stroke="#fff" stroke-width="0.35"/>
<circle cx="451.20" cy="134.84" r="1.55" fill="#8152b4" stroke="#fff" stroke-width="0.35"/>
<circle cx="462.40" cy="134.84" r="1.55" fill="#8152b4" stroke="#fff" stroke-width="0.35"/>
<circle cx="326.00" cy="140.96" r="1.55" fill="#8152b4" stroke="#fff" stroke-width="0.35"/>
<circle cx="328.40" cy="140.96" r="1.55" fill="#8152b4" stroke="#fff" stroke-width="0.35"/>
<circle cx="354.80" cy="140.96" r="1.55" fill="#8152b4" stroke="#fff" stroke-width="0.35"/>
<circle cx="356.90" cy="140.96" r="1.55" fill="#8152b4" stroke="#fff" stroke-width="0.35"/>
<circle cx="360.60" cy="140.96" r="1.55" fill="#8152b4" stroke="#fff" stroke-width="0.35"/>
<circle cx="435.60" cy="140.96" r="1.55" fill="#8152b4" stroke="#fff" stroke-width="0.35"/>
<circle cx="441.00" cy="140.96" r="1.55" fill="#8152b4" stroke="#fff" stroke-width="0.35"/>
<circle cx="443.00" cy="140.96" r="1.55" fill="#8152b4" stroke="#fff" stroke-width="0.35"/>
<circle cx="447.50" cy="140.96" r="1.55" fill="#8152b4" stroke="#fff" stroke-width="0.35"/>
<circle cx="449.90" cy="140.96" r="1.55" fill="#8152b4" stroke="#fff" stroke-width="0.35"/>
<circle cx="452.00" cy="140.96" r="1.55" fill="#8152b4" stroke="#fff" stroke-width="0.35"/>
<circle cx="454.40" cy="140.96" r="1.55" fill="#8152b4" stroke="#fff" stroke-width="0.35"/>
<circle cx="456.30" cy="140.96" r="1.55" fill="#8152b4" stroke="#fff" stroke-width="0.35"/>
<circle cx="458.40" cy="140.96" r="1.55" fill="#8152b4" stroke="#fff" stroke-width="0.35"/>
<circle cx="460.80" cy="140.96" r="1.55" fill="#8152b4" stroke="#fff" stroke-width="0.35"/>
<circle cx="463.20" cy="140.96" r="1.55" fill="#8152b4" stroke="#fff" stroke-width="0.35"/>
<circle cx="465.60" cy="140.96" r="1.55" fill="#8152b4" stroke="#fff" stroke-width="0.35"/>
<circle cx="469.80" cy="140.96" r="1.55" fill="#8152b4" stroke="#fff" stroke-width="0.35"/>
<line x1="132.31" y1="210.40" x2="132.31" y2="357.80" stroke="#6acc64" stroke-width="1.05"/>
<line x1="30.10" y1="357.40" x2="229.70" y2="229.06" stroke="#4a7cd4" stroke-width="1.1"/>
<circle cx="37.00" cy="352.78" r="1.55" fill="#8152b4" stroke="#fff" stroke-width="0.35" fill-opacity="0.7"/>
<circle cx="38.90" cy="351.40" r="1.55" fill="#8152b4" stroke="#fff" stroke-width="0.35" fill-opacity="0.7"/>
<circle cx="40.91" cy="349.63" r="1.55" fill="#8152b4" stroke="#fff" stroke-width="0.35" fill-opacity="0.7"/>
<circle cx="42.93" cy="347.74" r="1.55" fill="#8152b4" stroke="#fff" stroke-width="0.35" fill-opacity="0.7"/>
<circle cx="44.86" cy="346.46" r="1.55" fill="#8152b4" stroke="#fff" stroke-width="0.35" fill-opacity="0.7"/>
<circle cx="46.27" cy="345.93" r="1.55" fill="#8152b4" stroke="#fff" stroke-width="0.35" fill-opacity="0.7"/>
<circle cx="47.87" cy="344.49" r="1.55" fill="#8152b4" stroke="#fff" stroke-width="0.35" fill-opacity="0.7"/>
<circle cx="50.14" cy="342.90" r="1.55" fill="#8152b4" stroke="#fff" stroke-width="0.35" fill-opacity="0.7"/>
<circle cx="51.94" cy="341.56" r="1.55" fill="#8152b4" stroke="#fff" stroke-width="0.35" fill-opacity="0.7"/>
<circle cx="54.00" cy="340.26" r="1.55" fill="#8152b4" stroke="#fff" stroke-width="0.35" fill-opacity="0.7"/>
<circle cx="55.53" cy="338.97" r="1.55" fill="#8152b4" stroke="#fff" stroke-width="0.35" fill-opacity="0.7"/>
<circle cx="57.23" cy="337.50" r="1.55" fill="#8152b4" stroke="#fff" stroke-width="0.35" fill-opacity="0.7"/>
<circle cx="59.55" cy="335.99" r="1.55" fill="#8152b4" stroke="#fff" stroke-width="0.35" fill-opacity="0.7"/>
<circle cx="61.63" cy="334.67" r="1.55" fill="#8152b4" stroke="#fff" stroke-width="0.35" fill-opacity="0.7"/>
<circle cx="64.12" cy="332.60" r="1.55" fill="#8152b4" stroke="#fff" stroke-width="0.35" fill-opacity="0.7"/>
<circle cx="66.26" cy="331.09" r="1.55" fill="#8152b4" stroke="#fff" stroke-width="0.35" fill-opacity="0.7"/>
<circle cx="68.27" cy="329.76" r="1.55" fill="#8152b4" stroke="#fff" stroke-width="0.35" fill-opacity="0.7"/>
<circle cx="70.22" cy="328.22" r="1.55" fill="#8152b4" stroke="#fff" stroke-width="0.35" fill-opacity="0.7"/>
<circle cx="72.19" cy="327.10" r="1.55" fill="#8152b4" stroke="#fff" stroke-width="0.35" fill-opacity="0.7"/>
<circle cx="74.43" cy="325.41" r="1.55" fill="#8152b4" stroke="#fff" stroke-width="0.35" fill-opacity="0.7"/>
<circle cx="76.96" cy="323.07" r="1.55" fill="#8152b4" stroke="#fff" stroke-width="0.35" fill-opacity="0.7"/>
<circle cx="79.03" cy="322.10" r="1.55" fill="#8152b4" stroke="#fff" stroke-width="0.35" fill-opacity="0.7"/>
<circle cx="81.44" cy="319.70" r="1.55" fill="#8152b4" stroke="#fff" stroke-width="0.35" fill-opacity="0.7"/>
<circle cx="82.98" cy="318.81" r="1.55" fill="#8152b4" stroke="#fff" stroke-width="0.35" fill-opacity="0.7"/>
<circle cx="84.47" cy="317.57" r="1.55" fill="#8152b4" stroke="#fff" stroke-width="0.35" fill-opacity="0.7"/>
<circle cx="85.96" cy="316.82" r="1.55" fill="#8152b4" stroke="#fff" stroke-width="0.35" fill-opacity="0.7"/>
<circle cx="88.30" cy="315.29" r="1.55" fill="#8152b4" stroke="#fff" stroke-width="0.35" fill-opacity="0.7"/>
<circle cx="89.89" cy="313.99" r="1.55" fill="#8152b4" stroke="#fff" stroke-width="0.35" fill-opacity="0.7"/>
<circle cx="92.08" cy="311.93" r="1.55" fill="#8152b4" stroke="#fff" stroke-width="0.35" fill-opacity="0.7"/>
<circle cx="94.54" cy="310.79" r="1.55" fill="#8152b4" stroke="#fff" stroke-width="0.35" fill-opacity="0.7"/>
<circle cx="96.20" cy="309.57" r="1.55" fill="#8152b4" stroke="#fff" stroke-width="0.35" fill-opacity="0.7"/>
<circle cx="98.08" cy="307.82" r="1.55" fill="#8152b4" stroke="#fff" stroke-width="0.35" fill-opacity="0.7"/>
<circle cx="100.67" cy="306.21" r="1.55" fill="#8152b4" stroke="#fff" stroke-width="0.35" fill-opacity="0.7"/>
<circle cx="102.26" cy="304.72" r="1.55" fill="#8152b4" stroke="#fff" stroke-width="0.35" fill-opacity="0.7"/>
<circle cx="104.28" cy="303.17" r="1.55" fill="#8152b4" stroke="#fff" stroke-width="0.35" fill-opacity="0.7"/>
<circle cx="105.91" cy="301.96" r="1.55" fill="#8152b4" stroke="#fff" stroke-width="0.35" fill-opacity="0.7"/>
<circle cx="108.18" cy="300.07" r="1.55" fill="#8152b4" stroke="#fff" stroke-width="0.35" fill-opacity="0.7"/>
<circle cx="110.25" cy="298.89" r="1.55" fill="#8152b4" stroke="#fff" stroke-width="0.35" fill-opacity="0.7"/>
<circle cx="111.67" cy="297.77" r="1.55" fill="#8152b4" stroke="#fff" stroke-width="0.35" fill-opacity="0.7"/>
<circle cx="113.82" cy="296.34" r="1.55" fill="#8152b4" stroke="#fff" stroke-width="0.35" fill-opacity="0.7"/>
<circle cx="115.29" cy="295.64" r="1.55" fill="#8152b4" stroke="#fff" stroke-width="0.35" fill-opacity="0.7"/>
<circle cx="117.64" cy="293.92" r="1.55" fill="#8152b4" stroke="#fff" stroke-width="0.35" fill-opacity="0.7"/>
<circle cx="119.16" cy="292.24" r="1.55" fill="#8152b4" stroke="#fff" stroke-width="0.35" fill-opacity="0.7"/>
<circle cx="120.61" cy="291.59" r="1.55" fill="#8152b4" stroke="#fff" stroke-width="0.35" fill-opacity="0.7"/>
<circle cx="122.34" cy="289.81" r="1.55" fill="#8152b4" stroke="#fff" stroke-width="0.35" fill-opacity="0.7"/>
<circle cx="124.24" cy="289.04" r="1.55" fill="#8152b4" stroke="#fff" stroke-width="0.35" fill-opacity="0.7"/>
<circle cx="126.63" cy="286.78" r="1.55" fill="#8152b4" stroke="#fff" stroke-width="0.35" fill-opacity="0.7"/>
<circle cx="128.21" cy="286.15" r="1.55" fill="#8152b4" stroke="#fff" stroke-width="0.35" fill-opacity="0.7"/>
<circle cx="130.29" cy="284.46" r="1.55" fill="#8152b4" stroke="#fff" stroke-width="0.35" fill-opacity="0.7"/>
<circle cx="131.80" cy="282.84" r="1.55" fill="#8152b4" stroke="#fff" stroke-width="0.35" fill-opacity="0.7"/>
<circle cx="134.02" cy="281.51" r="1.55" fill="#8152b4" stroke="#fff" stroke-width="0.35" fill-opacity="0.7"/>
<circle cx="135.51" cy="280.83" r="1.55" fill="#8152b4" stroke="#fff" stroke-width="0.35" fill-opacity="0.7"/>
<circle cx="137.67" cy="279.14" r="1.55" fill="#8152b4" stroke="#fff" stroke-width="0.35" fill-opacity="0.7"/>
<circle cx="139.17" cy="278.09" r="1.55" fill="#8152b4" stroke="#fff" stroke-width="0.35" fill-opacity="0.7"/>
<circle cx="140.65" cy="277.02" r="1.55" fill="#8152b4" stroke="#fff" stroke-width="0.35" fill-opacity="0.7"/>
<circle cx="142.60" cy="275.18" r="1.55" fill="#8152b4" stroke="#fff" stroke-width="0.35" fill-opacity="0.7"/>
<circle cx="144.66" cy="274.14" r="1.55" fill="#8152b4" stroke="#fff" stroke-width="0.35" fill-opacity="0.7"/>
<circle cx="146.38" cy="272.24" r="1.55" fill="#8152b4" stroke="#fff" stroke-width="0.35" fill-opacity="0.7"/>
<circle cx="148.41" cy="270.84" r="1.55" fill="#8152b4" stroke="#fff" stroke-width="0.35" fill-opacity="0.7"/>
<circle cx="149.95" cy="269.66" r="1.55" fill="#8152b4" stroke="#fff" stroke-width="0.35" fill-opacity="0.7"/>
<circle cx="151.41" cy="268.63" r="1.55" fill="#8152b4" stroke="#fff" stroke-width="0.35" fill-opacity="0.7"/>
<circle cx="153.18" cy="267.42" r="1.55" fill="#8152b4" stroke="#fff" stroke-width="0.35" fill-opacity="0.7"/>
<circle cx="155.49" cy="265.71" r="1.55" fill="#8152b4" stroke="#fff" stroke-width="0.35" fill-opacity="0.7"/>
<circle cx="157.49" cy="264.16" r="1.55" fill="#8152b4" stroke="#fff" stroke-width="0.35" fill-opacity="0.7"/>
<circle cx="159.31" cy="262.71" r="1.55" fill="#8152b4" stroke="#fff" stroke-width="0.35" fill-opacity="0.7"/>
<circle cx="161.01" cy="261.46" r="1.55" fill="#8152b4" stroke="#fff" stroke-width="0.35" fill-opacity="0.7"/>
<circle cx="163.29" cy="260.23" r="1.55" fill="#8152b4" stroke="#fff" stroke-width="0.35" fill-opacity="0.7"/>
<circle cx="164.92" cy="258.98" r="1.55" fill="#8152b4" stroke="#fff" stroke-width="0.35" fill-opacity="0.7"/>
<circle cx="167.44" cy="256.84" r="1.55" fill="#8152b4" stroke="#fff" stroke-width="0.35" fill-opacity="0.7"/>
<circle cx="169.82" cy="255.36" r="1.55" fill="#8152b4" stroke="#fff" stroke-width="0.35" fill-opacity="0.7"/>
<circle cx="171.81" cy="254.22" r="1.55" fill="#8152b4" stroke="#fff" stroke-width="0.35" fill-opacity="0.7"/>
<circle cx="173.69" cy="252.59" r="1.55" fill="#8152b4" stroke="#fff" stroke-width="0.35" fill-opacity="0.7"/>
<circle cx="175.91" cy="251.35" r="1.55" fill="#8152b4" stroke="#fff" stroke-width="0.35" fill-opacity="0.7"/>
<circle cx="177.72" cy="249.91" r="1.55" fill="#8152b4" stroke="#fff" stroke-width="0.35" fill-opacity="0.7"/>
<circle cx="179.97" cy="248.11" r="1.55" fill="#8152b4" stroke="#fff" stroke-width="0.35" fill-opacity="0.7"/>
<circle cx="181.86" cy="246.50" r="1.55" fill="#8152b4" stroke="#fff" stroke-width="0.35" fill-opacity="0.7"/>
<circle cx="183.32" cy="245.25" r="1.55" fill="#8152b4" stroke="#fff" stroke-width="0.35" fill-opacity="0.7"/>
<circle cx="184.81" cy="244.66" r="1.55" fill="#8152b4" stroke="#fff" stroke-width="0.35" fill-opacity="0.7"/>
<circle cx="186.51" cy="242.95" r="1.55" fill="#8152b4" stroke="#fff" stroke-width="0.35" fill-opacity="0.7"/>
<circle cx="188.01" cy="242.39" r="1.55" fill="#8152b4" stroke="#fff" stroke-width="0.35" fill-opacity="0.7"/>
<circle cx="190.46" cy="240.47" r="1.55" fill="#8152b4" stroke="#fff" stroke-width="0.35" fill-opacity="0.7"/>
<circle cx="192.20" cy="238.86" r="1.55" fill="#8152b4" stroke="#fff" stroke-width="0.35" fill-opacity="0.7"/>
<circle cx="193.95" cy="237.75" r="1.55" fill="#8152b4" stroke="#fff" stroke-width="0.35" fill-opacity="0.7"/>
<circle cx="195.54" cy="236.58" r="1.55" fill="#8152b4" stroke="#fff" stroke-width="0.35" fill-opacity="0.7"/>
<circle cx="197.25" cy="235.74" r="1.55" fill="#8152b4" stroke="#fff" stroke-width="0.35" fill-opacity="0.7"/>
<circle cx="199.82" cy="233.53" r="1.55" fill="#8152b4" stroke="#fff" stroke-width="0.35" fill-opacity="0.7"/>
<circle cx="201.51" cy="232.63" r="1.55" fill="#8152b4" stroke="#fff" stroke-width="0.35" fill-opacity="0.7"/>
<circle cx="203.29" cy="230.85" r="1.55" fill="#8152b4" stroke="#fff" stroke-width="0.35" fill-opacity="0.7"/>
<circle cx="204.69" cy="229.84" r="1.55" fill="#8152b4" stroke="#fff" stroke-width="0.35" fill-opacity="0.7"/>
<circle cx="206.66" cy="228.50" r="1.55" fill="#8152b4" stroke="#fff" stroke-width="0.35" fill-opacity="0.7"/>
<circle cx="208.30" cy="227.30" r="1.55" fill="#8152b4" stroke="#fff" stroke-width="0.35" fill-opacity="0.7"/>
<circle cx="209.70" cy="226.08" r="1.55" fill="#8152b4" stroke="#fff" stroke-width="0.35" fill-opacity="0.7"/>
<circle cx="211.21" cy="225.09" r="1.55" fill="#8152b4" stroke="#fff" stroke-width="0.35" fill-opacity="0.7"/>
<circle cx="212.66" cy="223.73" r="1.55" fill="#8152b4" stroke="#fff" stroke-width="0.35" fill-opacity="0.7"/>
<circle cx="214.43" cy="222.61" r="1.55" fill="#8152b4" stroke="#fff" stroke-width="0.35" fill-opacity="0.7"/>
<circle cx="216.53" cy="221.31" r="1.55" fill="#8152b4" stroke="#fff" stroke-width="0.35" fill-opacity="0.7"/>
<circle cx="218.83" cy="219.73" r="1.55" fill="#8152b4" stroke="#fff" stroke-width="0.35" fill-opacity="0.7"/>
<circle cx="221.09" cy="218.26" r="1.55" fill="#8152b4" stroke="#fff" stroke-width="0.35" fill-opacity="0.7"/>
<circle cx="222.96" cy="216.45" r="1.55" fill="#8152b4" stroke="#fff" stroke-width="0.35" fill-opacity="0.7"/>
<circle cx="170.00" cy="262.10" r="1.55" fill="#8152b4" stroke="#fff" stroke-width="0.35"/>
<circle cx="188.00" cy="270.60" r="1.55" fill="#8152b4" stroke="#fff" stroke-width="0.35"/>
<circle cx="191.50" cy="275.00" r="1.55" fill="#8152b4" stroke="#fff" stroke-width="0.35"/>
<circle cx="194.20" cy="272.40" r="1.55" fill="#8152b4" stroke="#fff" stroke-width="0.35"/>
<circle cx="196.80" cy="272.00" r="1.55" fill="#8152b4" stroke="#fff" stroke-width="0.35"/>
<circle cx="198.60" cy="271.00" r="1.55" fill="#8152b4" stroke="#fff" stroke-width="0.35"/>
<circle cx="199.80" cy="268.50" r="1.55" fill="#8152b4" stroke="#fff" stroke-width="0.35"/>
<circle cx="201.20" cy="267.10" r="1.55" fill="#8152b4" stroke="#fff" stroke-width="0.35"/>
<circle cx="202.60" cy="265.70" r="1.55" fill="#8152b4" stroke="#fff" stroke-width="0.35"/>
<circle cx="206.50" cy="265.00" r="1.55" fill="#8152b4" stroke="#fff" stroke-width="0.35"/>
<circle cx="211.80" cy="260.00" r="1.55" fill="#8152b4" stroke="#fff" stroke-width="0.35"/>
<circle cx="204.40" cy="271.00" r="1.55" fill="#8152b4" stroke="#fff" stroke-width="0.35"/>
<circle cx="200.90" cy="272.70" r="1.55" fill="#8152b4" stroke="#fff" stroke-width="0.35"/>
<circle cx="204.80" cy="274.10" r="1.55" fill="#8152b4" stroke="#fff" stroke-width="0.35"/>
<circle cx="200.40" cy="275.90" r="1.55" fill="#8152b4" stroke="#fff" stroke-width="0.35"/>
<circle cx="202.10" cy="275.00" r="1.55" fill="#8152b4" stroke="#fff" stroke-width="0.35"/>
<circle cx="201.20" cy="278.60" r="1.55" fill="#8152b4" stroke="#fff" stroke-width="0.35"/>
<circle cx="211.00" cy="278.60" r="1.55" fill="#8152b4" stroke="#fff" stroke-width="0.35"/>
<circle cx="204.80" cy="282.60" r="1.55" fill="#8152b4" stroke="#fff" stroke-width="0.35"/>
<circle cx="206.50" cy="282.10" r="1.55" fill="#8152b4" stroke="#fff" stroke-width="0.35"/>
<circle cx="186.20" cy="278.60" r="1.55" fill="#8152b4" stroke="#fff" stroke-width="0.35"/>
<circle cx="183.60" cy="280.30" r="1.55" fill="#8152b4" stroke="#fff" stroke-width="0.35"/>
<circle cx="180.90" cy="282.60" r="1.55" fill="#8152b4" stroke="#fff" stroke-width="0.35"/>
<circle cx="176.50" cy="284.70" r="1.55" fill="#8152b4" stroke="#fff" stroke-width="0.35"/>
<circle cx="183.90" cy="284.70" r="1.55" fill="#8152b4" stroke="#fff" stroke-width="0.35"/>
<circle cx="184.50" cy="287.40" r="1.55" fill="#8152b4" stroke="#fff" stroke-width="0.35"/>
<circle cx="188.90" cy="282.10" r="1.55" fill="#8152b4" stroke="#fff" stroke-width="0.35"/>
<circle cx="190.60" cy="283.90" r="1.55" fill="#8152b4" stroke="#fff" stroke-width="0.35"/>
<circle cx="193.30" cy="284.70" r="1.55" fill="#8152b4" stroke="#fff" stroke-width="0.35"/>
<circle cx="195.10" cy="282.60" r="1.55" fill="#8152b4" stroke="#fff" stroke-width="0.35"/>
<circle cx="194.20" cy="280.30" r="1.55" fill="#8152b4" stroke="#fff" stroke-width="0.35"/>
<circle cx="195.10" cy="279.10" r="1.55" fill="#8152b4" stroke="#fff" stroke-width="0.35"/>
<circle cx="189.80" cy="284.40" r="1.55" fill="#8152b4" stroke="#fff" stroke-width="0.35"/>
<circle cx="171.20" cy="288.30" r="1.55" fill="#8152b4" stroke="#fff" stroke-width="0.35"/>
<circle cx="163.30" cy="286.50" r="1.55" fill="#8152b4" stroke="#fff" stroke-width="0.35"/>
<circle cx="161.50" cy="290.90" r="1.55" fill="#8152b4" stroke="#fff" stroke-width="0.35"/>
<circle cx="173.00" cy="293.20" r="1.55" fill="#8152b4" stroke="#fff" stroke-width="0.35"/>
<circle cx="174.70" cy="292.20" r="1.55" fill="#8152b4" stroke="#fff" stroke-width="0.35"/>
<circle cx="176.50" cy="293.20" r="1.55" fill="#8152b4" stroke="#fff" stroke-width="0.35"/>
<circle cx="179.70" cy="291.80" r="1.55" fill="#8152b4" stroke="#fff" stroke-width="0.35"/>
<circle cx="186.20" cy="292.70" r="1.55" fill="#8152b4" stroke="#fff" stroke-width="0.35"/>
<circle cx="191.00" cy="292.70" r="1.55" fill="#8152b4" stroke="#fff" stroke-width="0.35"/>
<circle cx="195.10" cy="289.20" r="1.55" fill="#8152b4" stroke="#fff" stroke-width="0.35"/>
<circle cx="196.80" cy="288.60" r="1.55" fill="#8152b4" stroke="#fff" stroke-width="0.35"/>
<circle cx="188.90" cy="294.50" r="1.55" fill="#8152b4" stroke="#fff" stroke-width="0.35"/>
<circle cx="185.30" cy="297.10" r="1.55" fill="#8152b4" stroke="#fff" stroke-width="0.35"/>
<circle cx="182.70" cy="298.50" r="1.55" fill="#8152b4" stroke="#fff" stroke-width="0.35"/>
<circle cx="181.40" cy="299.80" r="1.55" fill="#8152b4" stroke="#fff" stroke-width="0.35"/>
<circle cx="177.40" cy="302.40" r="1.55" fill="#8152b4" stroke="#fff" stroke-width="0.35"/>
<circle cx="203.00" cy="295.30" r="1.55" fill="#8152b4" stroke="#fff" stroke-width="0.35"/>
<circle cx="203.90" cy="303.30" r="1.55" fill="#8152b4" stroke="#fff" stroke-width="0.35"/>
<circle cx="183.60" cy="303.80" r="1.55" fill="#8152b4" stroke="#fff" stroke-width="0.35"/>
<circle cx="190.30" cy="304.70" r="1.55" fill="#8152b4" stroke="#fff" stroke-width="0.35"/>
<circle cx="192.40" cy="304.70" r="1.55" fill="#8152b4" stroke="#fff" stroke-width="0.35"/>
<circle cx="187.10" cy="306.80" r="1.55" fill="#8152b4" stroke="#fff" stroke-width="0.35"/>
<circle cx="196.80" cy="305.60" r="1.55" fill="#8152b4" stroke="#fff" stroke-width="0.35"/>
<circle cx="198.60" cy="307.70" r="1.55" fill="#8152b4" stroke="#fff" stroke-width="0.35"/>
<circle cx="197.30" cy="308.20" r="1.55" fill="#8152b4" stroke="#fff" stroke-width="0.35"/>
<circle cx="167.70" cy="304.50" r="1.55" fill="#8152b4" stroke="#fff" stroke-width="0.35"/>
<circle cx="183.60" cy="311.20" r="1.55" fill="#8152b4" stroke="#fff" stroke-width="0.35"/>
<circle cx="190.30" cy="313.50" r="1.55" fill="#8152b4" stroke="#fff" stroke-width="0.35"/>
<circle cx="160.60" cy="315.10" r="1.55" fill="#8152b4" stroke="#fff" stroke-width="0.35"/>
<circle cx="171.60" cy="320.60" r="1.55" fill="#8152b4" stroke="#fff" stroke-width="0.35"/>
<circle cx="174.70" cy="321.50" r="1.55" fill="#8152b4" stroke="#fff" stroke-width="0.35"/>
<circle cx="165.50" cy="328.00" r="1.55" fill="#8152b4" stroke="#fff" stroke-width="0.35"/>
<circle cx="174.20" cy="258.80" r="1.55" fill="#8152b4" stroke="#fff" stroke-width="0.35"/>
<circle cx="176.00" cy="257.50" r="1.55" fill="#8152b4" stroke="#fff" stroke-width="0.35"/>
<circle cx="177.40" cy="257.00" r="1.55" fill="#8152b4" stroke="#fff" stroke-width="0.35"/>
<circle cx="212.00" cy="259.30" r="1.55" fill="#8152b4" stroke="#fff" stroke-width="0.35"/>
<circle cx="203.00" cy="265.00" r="1.55" fill="#8152b4" stroke="#fff" stroke-width="0.35"/>
<circle cx="202.00" cy="266.90" r="1.55" fill="#8152b4" stroke="#fff" stroke-width="0.35"/>
<circle cx="200.30" cy="268.70" r="1.55" fill="#8152b4" stroke="#fff" stroke-width="0.35"/>
<circle cx="197.60" cy="270.50" r="1.55" fill="#8152b4" stroke="#fff" stroke-width="0.35"/>
<circle cx="194.90" cy="272.30" r="1.55" fill="#8152b4" stroke="#fff" stroke-width="0.35"/>
<circle cx="193.00" cy="272.80" r="1.55" fill="#8152b4" stroke="#fff" stroke-width="0.35"/>
<circle cx="187.70" cy="270.50" r="1.55" fill="#8152b4" stroke="#fff" stroke-width="0.35"/>
<circle cx="190.40" cy="274.60" r="1.55" fill="#8152b4" stroke="#fff" stroke-width="0.35"/>
<circle cx="201.20" cy="273.20" r="1.55" fill="#8152b4" stroke="#fff" stroke-width="0.35"/>
<circle cx="203.90" cy="274.10" r="1.55" fill="#8152b4" stroke="#fff" stroke-width="0.35"/>
<circle cx="204.70" cy="270.50" r="1.55" fill="#8152b4" stroke="#fff" stroke-width="0.35"/>
<circle cx="202.00" cy="275.90" r="1.55" fill="#8152b4" stroke="#fff" stroke-width="0.35"/>
<circle cx="185.90" cy="278.60" r="1.55" fill="#8152b4" stroke="#fff" stroke-width="0.35"/>
<circle cx="211.00" cy="278.60" r="1.55" fill="#8152b4" stroke="#fff" stroke-width="0.35"/>
<circle cx="136.20" cy="285.20" r="1.55" fill="#8152b4" stroke="#fff" stroke-width="0.35"/>
<circle cx="122.30" cy="294.20" r="1.55" fill="#8152b4" stroke="#fff" stroke-width="0.35"/>
<circle cx="118.90" cy="297.00" r="1.55" fill="#8152b4" stroke="#fff" stroke-width="0.35"/>
<circle cx="123.80" cy="300.80" r="1.55" fill="#8152b4" stroke="#fff" stroke-width="0.35"/>
<circle cx="128.00" cy="298.50" r="1.55" fill="#8152b4" stroke="#fff" stroke-width="0.35"/>
<circle cx="129.10" cy="298.00" r="1.55" fill="#8152b4" stroke="#fff" stroke-width="0.35"/>
<circle cx="135.60" cy="303.60" r="1.55" fill="#8152b4" stroke="#fff" stroke-width="0.35"/>
<circle cx="145.30" cy="297.00" r="1.55" fill="#8152b4" stroke="#fff" stroke-width="0.35"/>
<circle cx="161.70" cy="290.90" r="1.55" fill="#8152b4" stroke="#fff" stroke-width="0.35"/>
<circle cx="163.20" cy="286.40" r="1.55" fill="#8152b4" stroke="#fff" stroke-width="0.35"/>
<circle cx="160.50" cy="315.20" r="1.55" fill="#8152b4" stroke="#fff" stroke-width="0.35"/>
<circle cx="104.80" cy="307.10" r="1.55" fill="#8152b4" stroke="#fff" stroke-width="0.35"/>
<circle cx="106.40" cy="313.90" r="1.55" fill="#8152b4" stroke="#fff" stroke-width="0.35"/>
<circle cx="107.90" cy="319.20" r="1.55" fill="#8152b4" stroke="#fff" stroke-width="0.35"/>
<circle cx="106.80" cy="322.30" r="1.55" fill="#8152b4" stroke="#fff" stroke-width="0.35"/>
<circle cx="98.00" cy="310.20" r="1.55" fill="#8152b4" stroke="#fff" stroke-width="0.35"/>
<circle cx="97.30" cy="307.60" r="1.55" fill="#8152b4" stroke="#fff" stroke-width="0.35"/>
<circle cx="60.10" cy="343.20" r="1.55" fill="#8152b4" stroke="#fff" stroke-width="0.35"/>
<circle cx="62.60" cy="339.80" r="1.55" fill="#8152b4" stroke="#fff" stroke-width="0.35"/>
<circle cx="67.00" cy="337.90" r="1.55" fill="#8152b4" stroke="#fff" stroke-width="0.35"/>
<circle cx="69.60" cy="335.60" r="1.55" fill="#8152b4" stroke="#fff" stroke-width="0.35"/>
<circle cx="84.10" cy="329.00" r="1.55" fill="#8152b4" stroke="#fff" stroke-width="0.35"/>
<circle cx="87.50" cy="326.30" r="1.55" fill="#8152b4" stroke="#fff" stroke-width="0.35"/>
<circle cx="89.10" cy="317.90" r="1.55" fill="#8152b4" stroke="#fff" stroke-width="0.35"/>
<line x1="30.10" y1="357.40" x2="229.70" y2="211.56" stroke="#d65f5f" stroke-width="1.2" stroke-dasharray="3.2 1.6"/>
<rect x="319.00" y="217.01" width="13.5" height="140.69" fill="#4a7cd4"/>
<rect x="444.70" y="353.81" width="14.00" height="3.89" fill="#4a7cd4"/>
<line x1="322.48" y1="210.20" x2="322.48" y2="357.80" stroke="#6acc64" stroke-width="1.05"/>
<rect x="29.6" y="6.4" width="200.20000000000002" height="147.1" fill="none" stroke="#b4b4b4" stroke-width="1.35"/>
<line x1="30.00" y1="153.50" x2="30.00" y2="155.70" stroke="#b4b4b4" stroke-width="1.0"/>
<text x="30.00" y="162.10" font-size="8.0" text-anchor="middle" fill="#000000" stroke="#000000" stroke-width="0.16">0</text>
<line x1="58.57" y1="153.50" x2="58.57" y2="155.70" stroke="#b4b4b4" stroke-width="1.0"/>
<text x="58.57" y="162.10" font-size="8.0" text-anchor="middle" fill="#000000" stroke="#000000" stroke-width="0.16">100</text>
<line x1="87.14" y1="153.50" x2="87.14" y2="155.70" stroke="#b4b4b4" stroke-width="1.0"/>
<text x="87.14" y="162.10" font-size="8.0" text-anchor="middle" fill="#000000" stroke="#000000" stroke-width="0.16">200</text>
<line x1="115.71" y1="153.50" x2="115.71" y2="155.70" stroke="#b4b4b4" stroke-width="1.0"/>
<text x="115.71" y="162.10" font-size="8.0" text-anchor="middle" fill="#000000" stroke="#000000" stroke-width="0.16">300</text>
<line x1="144.28" y1="153.50" x2="144.28" y2="155.70" stroke="#b4b4b4" stroke-width="1.0"/>
<text x="144.28" y="162.10" font-size="8.0" text-anchor="middle" fill="#000000" stroke="#000000" stroke-width="0.16">400</text>
<line x1="172.85" y1="153.50" x2="172.85" y2="155.70" stroke="#b4b4b4" stroke-width="1.0"/>
<text x="172.85" y="162.10" font-size="8.0" text-anchor="middle" fill="#000000" stroke="#000000" stroke-width="0.16">500</text>
<line x1="201.42" y1="153.50" x2="201.42" y2="155.70" stroke="#b4b4b4" stroke-width="1.0"/>
<text x="201.42" y="162.10" font-size="8.0" text-anchor="middle" fill="#000000" stroke="#000000" stroke-width="0.16">600</text>
<line x1="229.99" y1="153.50" x2="229.99" y2="155.70" stroke="#b4b4b4" stroke-width="1.0"/>
<text x="229.99" y="162.10" font-size="8.0" text-anchor="middle" fill="#000000" stroke="#000000" stroke-width="0.16">700</text>
<line x1="27.40" y1="147.30" x2="29.60" y2="147.30" stroke="#b4b4b4" stroke-width="1.0"/>
<text x="26.40" y="149.90" font-size="8.0" text-anchor="end" fill="#000000" stroke="#000000" stroke-width="0.16">0.0</text>
<line x1="27.40" y1="119.30" x2="29.60" y2="119.30" stroke="#b4b4b4" stroke-width="1.0"/>
<text x="26.40" y="121.90" font-size="8.0" text-anchor="end" fill="#000000" stroke="#000000" stroke-width="0.16">0.5</text>
<line x1="27.40" y1="91.30" x2="29.60" y2="91.30" stroke="#b4b4b4" stroke-width="1.0"/>
<text x="26.40" y="93.90" font-size="8.0" text-anchor="end" fill="#000000" stroke="#000000" stroke-width="0.16">1.0</text>
<line x1="27.40" y1="63.30" x2="29.60" y2="63.30" stroke="#b4b4b4" stroke-width="1.0"/>
<text x="26.40" y="65.90" font-size="8.0" text-anchor="end" fill="#000000" stroke="#000000" stroke-width="0.16">1.5</text>
<line x1="27.40" y1="35.30" x2="29.60" y2="35.30" stroke="#b4b4b4" stroke-width="1.0"/>
<text x="26.40" y="37.90" font-size="8.0" text-anchor="end" fill="#000000" stroke="#000000" stroke-width="0.16">2.0</text>
<line x1="27.40" y1="7.30" x2="29.60" y2="7.30" stroke="#b4b4b4" stroke-width="1.0"/>
<text x="26.40" y="9.90" font-size="8.0" text-anchor="end" fill="#000000" stroke="#000000" stroke-width="0.16">2.5</text>
<text x="129.70" y="169.90" font-size="7.6" text-anchor="middle" fill="#000000" stroke="#000000" stroke-width="0.16">Route length (cell)</text>
<text x="13.50" y="79.95" font-size="7.6" text-anchor="middle" transform="rotate(-90 13.50 79.95)" fill="#000000" stroke="#000000" stroke-width="0.16">DTW distance (cell)</text>
<text x="132.00" y="183.40" font-size="11.8" text-anchor="middle" fill="#000000" stroke="#000000" stroke-width="0.16">(a)</text>
<rect x="288.3" y="6.2" width="201.0" height="147.3" fill="none" stroke="#b4b4b4" stroke-width="1.35"/>
<line x1="289.60" y1="153.50" x2="289.60" y2="155.70" stroke="#b4b4b4" stroke-width="1.0"/>
<text x="289.60" y="162.10" font-size="8.0" text-anchor="middle" fill="#000000" stroke="#000000" stroke-width="0.16">0</text>
<line x1="318.12" y1="153.50" x2="318.12" y2="155.70" stroke="#b4b4b4" stroke-width="1.0"/>
<text x="318.12" y="162.10" font-size="8.0" text-anchor="middle" fill="#000000" stroke="#000000" stroke-width="0.16">100</text>
<line x1="346.64" y1="153.50" x2="346.64" y2="155.70" stroke="#b4b4b4" stroke-width="1.0"/>
<text x="346.64" y="162.10" font-size="8.0" text-anchor="middle" fill="#000000" stroke="#000000" stroke-width="0.16">200</text>
<line x1="375.16" y1="153.50" x2="375.16" y2="155.70" stroke="#b4b4b4" stroke-width="1.0"/>
<text x="375.16" y="162.10" font-size="8.0" text-anchor="middle" fill="#000000" stroke="#000000" stroke-width="0.16">300</text>
<line x1="403.68" y1="153.50" x2="403.68" y2="155.70" stroke="#b4b4b4" stroke-width="1.0"/>
<text x="403.68" y="162.10" font-size="8.0" text-anchor="middle" fill="#000000" stroke="#000000" stroke-width="0.16">400</text>
<line x1="432.20" y1="153.50" x2="432.20" y2="155.70" stroke="#b4b4b4" stroke-width="1.0"/>
<text x="432.20" y="162.10" font-size="8.0" text-anchor="middle" fill="#000000" stroke="#000000" stroke-width="0.16">500</text>
<line x1="460.72" y1="153.50" x2="460.72" y2="155.70" stroke="#b4b4b4" stroke-width="1.0"/>
<text x="460.72" y="162.10" font-size="8.0" text-anchor="middle" fill="#000000" stroke="#000000" stroke-width="0.16">600</text>
<line x1="489.24" y1="153.50" x2="489.24" y2="155.70" stroke="#b4b4b4" stroke-width="1.0"/>
<text x="489.24" y="162.10" font-size="8.0" text-anchor="middle" fill="#000000" stroke="#000000" stroke-width="0.16">700</text>
<line x1="286.10" y1="153.20" x2="288.30" y2="153.20" stroke="#b4b4b4" stroke-width="1.0"/>
<text x="285.10" y="155.80" font-size="8.0" text-anchor="end" fill="#000000" stroke="#000000" stroke-width="0.16">0</text>
<line x1="286.10" y1="122.60" x2="288.30" y2="122.60" stroke="#b4b4b4" stroke-width="1.0"/>
<text x="285.10" y="125.20" font-size="8.0" text-anchor="end" fill="#000000" stroke="#000000" stroke-width="0.16">5</text>
<line x1="286.10" y1="92.00" x2="288.30" y2="92.00" stroke="#b4b4b4" stroke-width="1.0"/>
<text x="285.10" y="94.60" font-size="8.0" text-anchor="end" fill="#000000" stroke="#000000" stroke-width="0.16">10</text>
<line x1="286.10" y1="61.40" x2="288.30" y2="61.40" stroke="#b4b4b4" stroke-width="1.0"/>
<text x="285.10" y="64.00" font-size="8.0" text-anchor="end" fill="#000000" stroke="#000000" stroke-width="0.16">15</text>
<line x1="286.10" y1="30.80" x2="288.30" y2="30.80" stroke="#b4b4b4" stroke-width="1.0"/>
<text x="285.10" y="33.40" font-size="8.0" text-anchor="end" fill="#000000" stroke="#000000" stroke-width="0.16">20</text>
<text x="388.80" y="169.90" font-size="7.6" text-anchor="middle" fill="#000000" stroke="#000000" stroke-width="0.16">Route length (cell)</text>
<text x="275.50" y="79.85" font-size="7.6" text-anchor="middle" transform="rotate(-90 275.50 79.85)" fill="#000000" stroke="#000000" stroke-width="0.16">Hausdorff distance (cell)</text>
<text x="391.60" y="183.40" font-size="11.8" text-anchor="middle" fill="#000000" stroke="#000000" stroke-width="0.16">(b)</text>
<rect x="29.6" y="210.4" width="200.1" height="147.4" fill="none" stroke="#b4b4b4" stroke-width="1.35"/>
<line x1="30.10" y1="357.80" x2="30.10" y2="360.00" stroke="#b4b4b4" stroke-width="1.0"/>
<text x="30.10" y="366.40" font-size="8.0" text-anchor="middle" fill="#000000" stroke="#000000" stroke-width="0.16">0</text>
<line x1="58.65" y1="357.80" x2="58.65" y2="360.00" stroke="#b4b4b4" stroke-width="1.0"/>
<text x="58.65" y="366.40" font-size="8.0" text-anchor="middle" fill="#000000" stroke="#000000" stroke-width="0.16">100</text>
<line x1="87.20" y1="357.80" x2="87.20" y2="360.00" stroke="#b4b4b4" stroke-width="1.0"/>
<text x="87.20" y="366.40" font-size="8.0" text-anchor="middle" fill="#000000" stroke="#000000" stroke-width="0.16">200</text>
<line x1="115.75" y1="357.80" x2="115.75" y2="360.00" stroke="#b4b4b4" stroke-width="1.0"/>
<text x="115.75" y="366.40" font-size="8.0" text-anchor="middle" fill="#000000" stroke="#000000" stroke-width="0.16">300</text>
<line x1="144.30" y1="357.80" x2="144.30" y2="360.00" stroke="#b4b4b4" stroke-width="1.0"/>
<text x="144.30" y="366.40" font-size="8.0" text-anchor="middle" fill="#000000" stroke="#000000" stroke-width="0.16">400</text>
<line x1="172.85" y1="357.80" x2="172.85" y2="360.00" stroke="#b4b4b4" stroke-width="1.0"/>
<text x="172.85" y="366.40" font-size="8.0" text-anchor="middle" fill="#000000" stroke="#000000" stroke-width="0.16">500</text>
<line x1="201.40" y1="357.80" x2="201.40" y2="360.00" stroke="#b4b4b4" stroke-width="1.0"/>
<text x="201.40" y="366.40" font-size="8.0" text-anchor="middle" fill="#000000" stroke="#000000" stroke-width="0.16">600</text>
<line x1="229.95" y1="357.80" x2="229.95" y2="360.00" stroke="#b4b4b4" stroke-width="1.0"/>
<text x="229.95" y="366.40" font-size="8.0" text-anchor="middle" fill="#000000" stroke="#000000" stroke-width="0.16">700</text>
<line x1="27.40" y1="357.40" x2="29.60" y2="357.40" stroke="#b4b4b4" stroke-width="1.0"/>
<text x="26.40" y="360.00" font-size="8.0" text-anchor="end" fill="#000000" stroke="#000000" stroke-width="0.16">0</text>
<line x1="27.40" y1="336.54" x2="29.60" y2="336.54" stroke="#b4b4b4" stroke-width="1.0"/>
<text x="26.40" y="339.14" font-size="8.0" text-anchor="end" fill="#000000" stroke="#000000" stroke-width="0.16">100</text>
<line x1="27.40" y1="315.68" x2="29.60" y2="315.68" stroke="#b4b4b4" stroke-width="1.0"/>
<text x="26.40" y="318.28" font-size="8.0" text-anchor="end" fill="#000000" stroke="#000000" stroke-width="0.16">200</text>
<line x1="27.40" y1="294.82" x2="29.60" y2="294.82" stroke="#b4b4b4" stroke-width="1.0"/>
<text x="26.40" y="297.42" font-size="8.0" text-anchor="end" fill="#000000" stroke="#000000" stroke-width="0.16">300</text>
<line x1="27.40" y1="273.96" x2="29.60" y2="273.96" stroke="#b4b4b4" stroke-width="1.0"/>
<text x="26.40" y="276.56" font-size="8.0" text-anchor="end" fill="#000000" stroke="#000000" stroke-width="0.16">400</text>
<line x1="27.40" y1="253.10" x2="29.60" y2="253.10" stroke="#b4b4b4" stroke-width="1.0"/>
<text x="26.40" y="255.70" font-size="8.0" text-anchor="end" fill="#000000" stroke="#000000" stroke-width="0.16">500</text>
<line x1="27.40" y1="232.24" x2="29.60" y2="232.24" stroke="#b4b4b4" stroke-width="1.0"/>
<text x="26.40" y="234.84" font-size="8.0" text-anchor="end" fill="#000000" stroke="#000000" stroke-width="0.16">600</text>
<line x1="27.40" y1="211.38" x2="29.60" y2="211.38" stroke="#b4b4b4" stroke-width="1.0"/>
<text x="26.40" y="213.98" font-size="8.0" text-anchor="end" fill="#000000" stroke="#000000" stroke-width="0.16">700</text>
<text x="129.65" y="374.20" font-size="7.6" text-anchor="middle" fill="#000000" stroke="#000000" stroke-width="0.16">Route length (cell)</text>
<text x="12.00" y="284.10" font-size="7.6" text-anchor="middle" transform="rotate(-90 12.00 284.10)" fill="#000000" stroke="#000000" stroke-width="0.16">Overlapping route length (cell)</text>
<text x="132.00" y="388.50" font-size="11.8" text-anchor="middle" fill="#000000" stroke="#000000" stroke-width="0.16">(c)</text>
<rect x="288.8" y="210.2" width="200.7" height="147.60000000000002" fill="none" stroke="#b4b4b4" stroke-width="1.35"/>
<line x1="290.70" y1="357.80" x2="290.70" y2="360.00" stroke="#b4b4b4" stroke-width="1.0"/>
<text x="290.70" y="366.40" font-size="8.0" text-anchor="middle" fill="#000000" stroke="#000000" stroke-width="0.16">-2</text>
<line x1="318.70" y1="357.80" x2="318.70" y2="360.00" stroke="#b4b4b4" stroke-width="1.0"/>
<text x="318.70" y="366.40" font-size="8.0" text-anchor="middle" fill="#000000" stroke="#000000" stroke-width="0.16">0</text>
<line x1="346.70" y1="357.80" x2="346.70" y2="360.00" stroke="#b4b4b4" stroke-width="1.0"/>
<text x="346.70" y="366.40" font-size="8.0" text-anchor="middle" fill="#000000" stroke="#000000" stroke-width="0.16">2</text>
<line x1="374.70" y1="357.80" x2="374.70" y2="360.00" stroke="#b4b4b4" stroke-width="1.0"/>
<text x="374.70" y="366.40" font-size="8.0" text-anchor="middle" fill="#000000" stroke="#000000" stroke-width="0.16">4</text>
<line x1="402.70" y1="357.80" x2="402.70" y2="360.00" stroke="#b4b4b4" stroke-width="1.0"/>
<text x="402.70" y="366.40" font-size="8.0" text-anchor="middle" fill="#000000" stroke="#000000" stroke-width="0.16">6</text>
<line x1="430.70" y1="357.80" x2="430.70" y2="360.00" stroke="#b4b4b4" stroke-width="1.0"/>
<text x="430.70" y="366.40" font-size="8.0" text-anchor="middle" fill="#000000" stroke="#000000" stroke-width="0.16">8</text>
<line x1="458.70" y1="357.80" x2="458.70" y2="360.00" stroke="#b4b4b4" stroke-width="1.0"/>
<text x="458.70" y="366.40" font-size="8.0" text-anchor="middle" fill="#000000" stroke="#000000" stroke-width="0.16">10</text>
<line x1="486.70" y1="357.80" x2="486.70" y2="360.00" stroke="#b4b4b4" stroke-width="1.0"/>
<text x="486.70" y="366.40" font-size="8.0" text-anchor="middle" fill="#000000" stroke="#000000" stroke-width="0.16">12</text>
<line x1="286.60" y1="357.70" x2="288.80" y2="357.70" stroke="#b4b4b4" stroke-width="1.0"/>
<text x="285.60" y="360.30" font-size="8.0" text-anchor="end" fill="#000000" stroke="#000000" stroke-width="0.16">0.0</text>
<line x1="286.60" y1="328.90" x2="288.80" y2="328.90" stroke="#b4b4b4" stroke-width="1.0"/>
<text x="285.60" y="331.50" font-size="8.0" text-anchor="end" fill="#000000" stroke="#000000" stroke-width="0.16">0.2</text>
<line x1="286.60" y1="300.10" x2="288.80" y2="300.10" stroke="#b4b4b4" stroke-width="1.0"/>
<text x="285.60" y="302.70" font-size="8.0" text-anchor="end" fill="#000000" stroke="#000000" stroke-width="0.16">0.4</text>
<line x1="286.60" y1="271.30" x2="288.80" y2="271.30" stroke="#b4b4b4" stroke-width="1.0"/>
<text x="285.60" y="273.90" font-size="8.0" text-anchor="end" fill="#000000" stroke="#000000" stroke-width="0.16">0.6</text>
<line x1="286.60" y1="242.50" x2="288.80" y2="242.50" stroke="#b4b4b4" stroke-width="1.0"/>
<text x="285.60" y="245.10" font-size="8.0" text-anchor="end" fill="#000000" stroke="#000000" stroke-width="0.16">0.8</text>
<line x1="286.60" y1="213.70" x2="288.80" y2="213.70" stroke="#b4b4b4" stroke-width="1.0"/>
<text x="285.60" y="216.30" font-size="8.0" text-anchor="end" fill="#000000" stroke="#000000" stroke-width="0.16">1.0</text>
<text x="389.15" y="374.20" font-size="7.6" text-anchor="middle" fill="#000000" stroke="#000000" stroke-width="0.16">Destination distance (cell)</text>
<text x="272.00" y="284.00" font-size="7.6" text-anchor="middle" transform="rotate(-90 272.00 284.00)" fill="#000000" stroke="#000000" stroke-width="0.16">Proportion</text>
<text x="392.40" y="388.50" font-size="11.8" text-anchor="middle" fill="#000000" stroke="#000000" stroke-width="0.16">(d)</text>
<polyline points="296.86,356.47 297.42,356.16 297.98,355.78 298.54,355.31 299.10,354.75 299.66,354.09 300.22,353.29 300.78,352.36 301.34,351.27 301.90,349.99 302.46,348.52 303.02,346.84 303.58,344.92 304.14,342.75 304.70,340.31 305.26,337.60 305.82,334.60 306.38,331.31 306.94,327.73 307.50,323.87 308.06,319.73 308.62,315.34 309.18,310.72 309.74,305.90 310.30,300.92 310.86,295.84 311.42,290.69 311.98,285.55 312.54,280.47 313.10,275.52 313.66,270.77 314.22,266.28 314.78,262.13 315.34,258.39 315.90,255.10 316.46,252.33 317.02,250.13 317.58,248.52 318.14,247.55 318.70,247.22 319.26,247.55 319.82,248.52 320.38,250.13 320.94,252.33 321.50,255.10 322.06,258.39 322.62,262.13 323.18,266.28 323.74,270.77 324.30,275.52 324.86,280.47 325.42,285.55 325.98,290.69 326.54,295.84 327.10,300.92 327.66,305.90 328.22,310.72 328.78,315.34 329.34,319.73 329.90,323.87 330.46,327.73 331.02,331.31 331.58,334.60 332.14,337.60 332.70,340.31 333.26,342.75 333.82,344.92 334.38,346.84 334.94,348.52 335.50,349.99 336.06,351.27 336.62,352.36 337.18,353.29 337.74,354.09 338.30,354.75 338.86,355.31 339.42,355.78 339.98,356.16 340.54,356.47 341.10,356.73 341.66,356.94 342.22,357.10 342.78,357.23 343.34,357.34 343.90,357.42 344.46,357.49 345.02,357.54 345.58,357.58 346.14,357.61 346.70,357.63 347.26,357.65 347.82,357.66 348.38,357.67 348.94,357.68 349.50,357.69 350.06,357.69 350.62,357.69 351.18,357.69 351.74,357.70 352.30,357.70 352.86,357.70 353.42,357.70 353.98,357.70 354.54,357.70 355.10,357.70 355.66,357.70 356.22,357.70 356.78,357.70 357.34,357.70 357.90,357.70 358.46,357.70 359.02,357.70 359.58,357.70 360.14,357.70 360.70,357.70 361.26,357.70 361.82,357.70 362.38,357.70 362.94,357.70 363.50,357.70 364.06,357.70 364.62,357.70 365.18,357.70 365.74,357.70 366.30,357.70 366.86,357.70 367.42,357.70 367.98,357.70 368.54,357.70 369.10,357.70 369.66,357.70 370.22,357.70 370.78,357.70 371.34,357.70 371.90,357.70 372.46,357.70 373.02,357.70 373.58,357.70 374.14,357.70 374.70,357.70 375.26,357.70 375.82,357.70 376.38,357.70 376.94,357.70 377.50,357.70 378.06,357.70 378.62,357.70 379.18,357.70 379.74,357.70 380.30,357.70 380.86,357.70 381.42,357.70 381.98,357.70 382.54,357.70 383.10,357.70 383.66,357.70 384.22,357.70 384.78,357.70 385.34,357.70 385.90,357.70 386.46,357.70 387.02,357.70 387.58,357.70 388.14,357.70 388.70,357.70 389.26,357.70 389.82,357.70 390.38,357.70 390.94,357.70 391.50,357.70 392.06,357.70 392.62,357.70 393.18,357.70 393.74,357.70 394.30,357.70 394.86,357.70 395.42,357.70 395.98,357.70 396.54,357.70 397.10,357.70 397.66,357.70 398.22,357.70 398.78,357.70 399.34,357.70 399.90,357.70 400.46,357.70 401.02,357.70 401.58,357.70 402.14,357.70 402.70,357.70 403.26,357.70 403.82,357.70 404.38,357.70 404.94,357.70 405.50,357.70 406.06,357.70 406.62,357.70 407.18,357.70 407.74,357.70 408.30,357.70 408.86,357.70 409.42,357.70 409.98,357.70 410.54,357.70 411.10,357.70 411.66,357.70 412.22,357.70 412.78,357.70 413.34,357.70 413.90,357.70 414.46,357.70 415.02,357.70 415.58,357.70 416.14,357.70 416.70,357.70 417.26,357.70 417.82,357.70 418.38,357.70 418.94,357.70 419.50,357.70 420.06,357.70 420.62,357.70 421.18,357.70 421.74,357.70 422.30,357.70 422.86,357.70 423.42,357.70 423.98,357.70 424.54,357.70 425.10,357.70 425.66,357.70 426.22,357.70 426.78,357.70 427.34,357.70 427.90,357.70 428.46,357.70 429.02,357.70 429.58,357.70 430.14,357.70 430.70,357.70 431.26,357.70 431.82,357.70 432.38,357.70 432.94,357.69 433.50,357.69 434.06,357.69 434.62,357.69 435.18,357.68 435.74,357.68 436.30,357.67 436.86,357.67 437.42,357.66 437.98,357.65 438.54,357.64 439.10,357.62 439.66,357.60 440.22,357.58 440.78,357.56 441.34,357.53 441.90,357.49 442.46,357.45 443.02,357.41 443.58,357.35 444.14,357.30 444.70,357.23 445.26,357.16 445.82,357.08 446.38,356.99 446.94,356.89 447.50,356.79 448.06,356.67 448.62,356.56 449.18,356.43 449.74,356.30 450.30,356.17 450.86,356.03 451.42,355.89 451.98,355.75 452.54,355.61 453.10,355.48 453.66,355.35 454.22,355.23 454.78,355.12 455.34,355.02 455.90,354.93 456.46,354.86 457.02,354.80 457.58,354.75 458.14,354.73 458.70,354.72 459.26,354.73 459.82,354.75 460.38,354.80 460.94,354.86 461.50,354.93 462.06,355.02 462.62,355.12 463.18,355.23 463.74,355.35 464.30,355.48 464.86,355.61 465.42,355.75 465.98,355.89 466.54,356.03 467.10,356.17 467.66,356.30 468.22,356.43 468.78,356.56 469.34,356.67 469.90,356.79 470.46,356.89 471.02,356.99 471.58,357.08 472.14,357.16 472.70,357.23 473.26,357.30 473.82,357.35 474.38,357.41 474.94,357.45 475.50,357.49 476.06,357.53 476.62,357.56 477.18,357.58 477.74,357.60 478.30,357.62 478.86,357.64 479.42,357.65 479.98,357.66 480.54,357.67" fill="none" stroke="#ee854a" stroke-width="1.2" stroke-dasharray="3.3 1.8"/>
<rect x="32.6" y="9.2" width="95.6" height="21.8" rx="1" fill="#fff" fill-opacity="0.8" stroke="#e0e0e0" stroke-width="0.7"/>
<line x1="34.90" y1="14.40" x2="49.20" y2="14.40" stroke="#6acc64" stroke-width="1.2"/>
<text x="54.40" y="17.20" font-size="6.9" text-anchor="start" fill="#000000" stroke="#000000" stroke-width="0.16">Mean route length: 358</text>
<line x1="34.90" y1="24.40" x2="49.20" y2="24.40" stroke="#4a7cd4" stroke-width="1.2"/>
<text x="54.40" y="27.20" font-size="6.9" text-anchor="start" fill="#000000" stroke="#000000" stroke-width="0.16">Mean DTW distance: 0.21</text>
<rect x="291.4" y="9.4" width="110.3" height="21.6" rx="1" fill="#fff" fill-opacity="0.8" stroke="#e0e0e0" stroke-width="0.7"/>
<line x1="293.70" y1="14.40" x2="308.00" y2="14.40" stroke="#6acc64" stroke-width="1.2"/>
<text x="313.20" y="17.20" font-size="6.9" text-anchor="start" fill="#000000" stroke="#000000" stroke-width="0.16">Mean route length: 358</text>
<line x1="293.70" y1="24.40" x2="308.00" y2="24.40" stroke="#4a7cd4" stroke-width="1.2"/>
<text x="313.20" y="27.20" font-size="6.9" text-anchor="start" fill="#000000" stroke="#000000" stroke-width="0.16">Mean Hausdorff distance: 2.31</text>
<rect x="32.7" y="213.6" width="95.6" height="21.8" rx="1" fill="#fff" fill-opacity="0.8" stroke="#e0e0e0" stroke-width="0.7"/>
<line x1="35.00" y1="218.50" x2="49.30" y2="218.50" stroke="#6acc64" stroke-width="1.2"/>
<text x="54.50" y="221.30" font-size="6.9" text-anchor="start" fill="#000000" stroke="#000000" stroke-width="0.16">Mean route length: 358</text>
<line x1="35.00" y1="228.50" x2="49.30" y2="228.50" stroke="#4a7cd4" stroke-width="1.2"/>
<text x="54.50" y="231.30" font-size="6.9" text-anchor="start" fill="#000000" stroke="#000000" stroke-width="0.16">Mean overlap rate: 0.88</text>
<rect x="373.6" y="213.4" width="113.2" height="12.0" rx="1" fill="#fff" fill-opacity="0.8" stroke="#e0e0e0" stroke-width="0.7"/>
<line x1="375.90" y1="218.40" x2="390.20" y2="218.40" stroke="#6acc64" stroke-width="1.2"/>
<text x="395.40" y="221.20" font-size="6.9" text-anchor="start" fill="#000000" stroke="#000000" stroke-width="0.16">Mean destination distance: 0.27</text>
</g>
</svg></body></html>
